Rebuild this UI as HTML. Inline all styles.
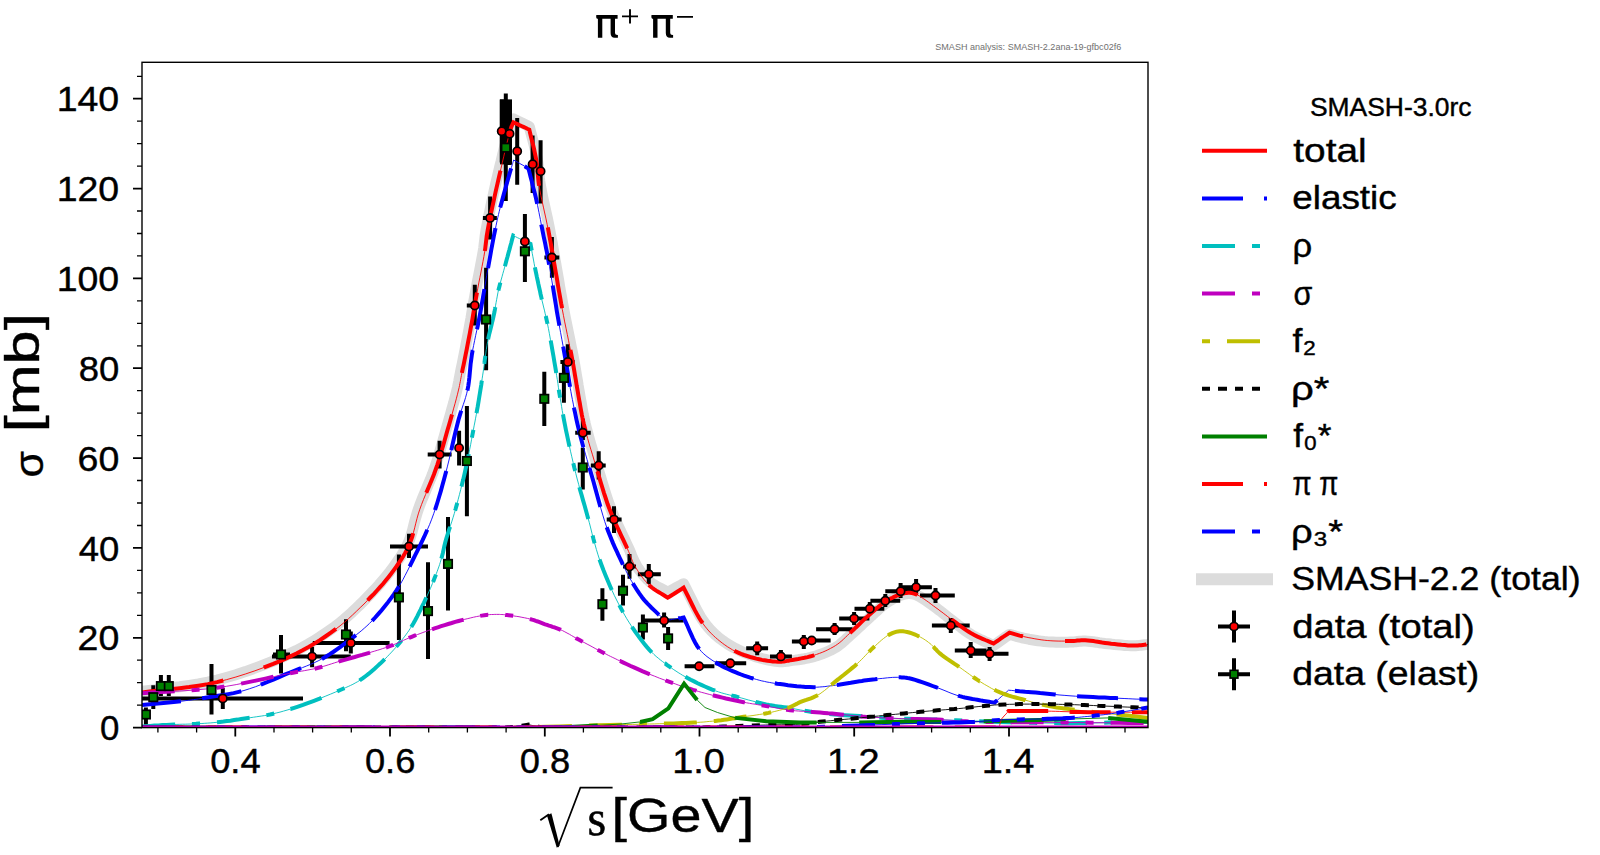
<!DOCTYPE html><html><head><meta charset="utf-8"><style>html,body{margin:0;padding:0;background:#fff;width:1600px;height:855px;overflow:hidden}svg{display:block}</style></head><body>
<svg width="1600" height="855" viewBox="0 0 1600 855" font-family='"Liberation Sans", sans-serif'>
<rect width="1600" height="855" fill="#fff"/>
<defs><clipPath id="ax"><rect x="142" y="62.3" width="1006" height="665.3"/></clipPath></defs>
<g clip-path="url(#ax)" fill="none" stroke-linejoin="miter" stroke-linecap="butt">
<path d="M142.0 691.4 L151.4 690.1 L160.8 688.9 L170.2 687.8 L179.7 686.7 L189.1 685.4 L198.4 684.0 L207.8 682.2 L217.0 680.1 L226.4 677.5 L235.9 674.7 L245.5 671.6 L254.9 668.2 L264.2 664.7 L273.2 661.1 L281.8 657.4 L290.0 653.6 L296.4 650.5 L302.5 647.3 L308.4 644.0 L314.1 640.6 L319.6 637.2 L324.9 633.7 L330.1 630.1 L335.2 626.4 L339.6 623.0 L343.9 619.5 L348.0 615.9 L352.0 612.3 L355.8 608.6 L359.6 605.0 L363.3 601.3 L366.9 597.7 L370.1 594.4 L373.2 591.1 L376.2 587.9 L379.2 584.6 L382.0 581.3 L384.8 578.0 L387.5 574.7 L390.2 571.3 L392.7 568.0 L395.1 564.7 L397.4 561.4 L399.7 558.0 L401.9 554.7 L404.0 551.2 L406.0 547.6 L407.8 543.9 L409.5 539.9 L410.9 535.7 L412.2 531.5 L413.3 527.1 L414.4 522.7 L415.6 518.2 L416.9 513.7 L418.3 509.3 L420.1 504.4 L422.0 499.5 L424.1 494.5 L426.2 489.5 L428.3 484.4 L430.4 479.4 L432.4 474.3 L434.2 469.3 L435.9 464.3 L437.5 459.4 L439.0 454.4 L440.4 449.4 L441.9 444.4 L443.3 439.4 L444.7 434.4 L446.1 429.5 L447.6 424.4 L449.1 419.1 L450.6 413.8 L452.0 408.5 L453.5 403.3 L454.8 398.3 L456.0 393.7 L457.0 389.5 L457.6 387.1 L458.0 385.0 L458.4 383.0 L458.8 381.1 L459.1 379.1 L459.5 377.2 L459.9 375.0 L460.4 372.6 L461.2 368.4 L462.2 363.8 L463.2 358.9 L464.2 353.7 L465.3 348.4 L466.3 343.1 L467.3 337.9 L468.3 332.8 L469.2 327.8 L470.1 322.8 L471.0 317.9 L471.8 312.9 L472.7 307.9 L473.5 302.9 L474.4 297.9 L475.3 292.9 L476.3 287.6 L477.3 282.2 L478.4 276.7 L479.5 271.2 L480.5 265.8 L481.5 260.6 L482.4 255.7 L483.2 251.1 L483.7 248.1 L484.0 245.4 L484.3 242.8 L484.6 240.4 L484.9 237.9 L485.2 235.2 L485.7 232.4 L486.2 229.2 L487.4 222.8 L488.8 215.6 L490.5 207.7 L492.3 199.4 L494.1 190.9 L496.0 182.6 L497.9 174.6 L499.6 167.2 L501.1 161.3 L502.5 155.1 L504.1 149.0 L505.6 143.1 L507.0 137.6 L508.4 132.6 L509.7 128.3 L510.8 124.9 L511.2 123.8 L511.5 123.0 L511.9 122.2 L512.2 121.5 L512.5 120.8 L512.8 120.2 L513.2 119.5 L513.5 118.8 L515.5 119.8 L517.5 120.8 L519.4 121.8 L521.4 122.7 L523.4 123.7 L525.4 124.7 L527.3 125.7 L529.3 126.7 L530.3 130.7 L531.4 134.8 L532.5 138.9 L533.6 143.0 L534.6 147.0 L535.6 151.1 L536.5 155.0 L537.2 158.9 L537.8 162.2 L538.2 165.4 L538.5 168.4 L538.8 171.5 L539.1 174.6 L539.4 177.8 L539.8 181.2 L540.3 184.7 L541.3 189.8 L542.3 195.3 L543.6 201.1 L544.9 207.0 L546.2 212.9 L547.5 218.8 L548.7 224.6 L549.8 230.0 L550.6 234.4 L551.4 238.7 L552.2 242.8 L552.9 246.9 L553.6 251.0 L554.3 255.1 L555.0 259.4 L555.8 263.8 L556.7 269.2 L557.7 274.7 L558.7 280.4 L559.6 286.1 L560.6 291.9 L561.7 297.8 L562.7 303.7 L563.8 309.5 L565.0 315.7 L566.2 321.9 L567.5 328.2 L568.8 334.5 L570.1 340.8 L571.3 347.1 L572.6 353.2 L573.7 359.2 L574.7 364.6 L575.6 369.9 L576.5 375.3 L577.4 380.5 L578.2 385.7 L579.1 390.7 L579.9 395.5 L580.7 400.0 L581.3 403.2 L581.8 406.3 L582.3 409.1 L582.8 411.9 L583.3 414.7 L583.9 417.6 L584.6 420.6 L585.3 423.8 L586.5 428.5 L587.8 433.4 L589.2 438.6 L590.7 443.9 L592.3 449.3 L594.0 454.8 L595.6 460.2 L597.2 465.5 L598.8 471.0 L600.5 476.5 L602.1 482.0 L603.8 487.5 L605.5 493.1 L607.3 498.6 L609.1 504.0 L611.1 509.3 L613.2 514.5 L615.4 519.7 L617.8 525.0 L620.2 530.1 L622.5 535.2 L624.8 540.0 L626.9 544.5 L628.9 548.6 L630.0 551.1 L630.9 553.5 L631.8 555.8 L632.7 557.9 L633.6 560.0 L634.5 562.0 L635.6 564.0 L636.7 566.1 L638.1 568.2 L639.6 570.3 L641.1 572.3 L642.7 574.4 L644.4 576.3 L646.1 578.2 L647.9 580.0 L649.8 581.7 L651.8 583.3 L654.0 584.7 L656.2 586.1 L658.5 587.3 L660.8 588.5 L663.1 589.7 L665.4 590.9 L667.7 592.2 L669.7 591.2 L671.7 590.1 L673.7 589.0 L675.7 587.9 L677.6 586.9 L679.6 585.8 L681.6 584.7 L683.6 583.7 L686.0 588.4 L688.4 593.3 L690.9 598.2 L693.3 603.1 L695.7 607.9 L698.1 612.5 L700.5 616.7 L702.9 620.4 L704.6 622.8 L706.2 624.9 L707.8 626.9 L709.4 628.8 L711.0 630.5 L712.7 632.2 L714.4 633.9 L716.3 635.6 L718.5 637.4 L720.7 639.2 L723.0 640.9 L725.4 642.5 L727.8 644.1 L730.3 645.7 L732.9 647.1 L735.5 648.5 L738.3 649.9 L741.2 651.3 L744.1 652.5 L747.2 653.7 L750.2 654.9 L753.2 655.9 L756.3 656.9 L759.2 657.7 L761.9 658.5 L764.6 659.2 L767.4 659.8 L770.1 660.4 L772.8 660.9 L775.3 661.3 L777.8 661.5 L780.0 661.7 L781.4 661.7 L782.6 661.7 L783.8 661.6 L784.9 661.5 L786.0 661.3 L787.2 661.2 L788.5 661.0 L789.9 660.8 L792.4 660.4 L795.2 660.1 L798.2 659.7 L801.3 659.2 L804.5 658.7 L807.6 658.1 L810.7 657.4 L813.7 656.6 L816.6 655.8 L819.4 654.8 L822.3 653.8 L825.1 652.7 L827.8 651.5 L830.5 650.3 L833.1 648.9 L835.6 647.5 L837.8 646.1 L839.9 644.5 L841.9 642.9 L843.8 641.2 L845.7 639.4 L847.6 637.7 L849.5 635.9 L851.5 634.1 L853.7 632.1 L855.9 630.1 L858.2 628.0 L860.5 625.9 L862.7 623.8 L865.0 621.7 L867.2 619.7 L869.4 617.7 L871.4 615.8 L873.4 614.0 L875.4 612.1 L877.4 610.3 L879.4 608.5 L881.3 606.8 L883.3 605.2 L885.3 603.7 L887.0 602.5 L888.8 601.3 L890.6 600.2 L892.3 599.2 L894.1 598.2 L895.8 597.3 L897.5 596.5 L899.2 595.9 L900.5 595.4 L901.8 594.9 L903.1 594.5 L904.3 594.2 L905.6 593.9 L906.8 593.7 L908.0 593.6 L909.2 593.5 L910.2 593.6 L911.2 593.6 L912.1 593.8 L913.0 593.9 L914.0 594.2 L915.0 594.5 L916.0 594.9 L917.1 595.3 L919.1 596.3 L921.4 597.6 L923.7 599.1 L926.2 600.7 L928.7 602.5 L931.2 604.3 L933.6 606.1 L935.9 607.7 L938.0 609.3 L940.0 610.8 L941.9 612.3 L943.8 613.9 L945.8 615.4 L947.7 617.0 L949.7 618.6 L951.8 620.2 L954.2 622.0 L956.6 623.9 L959.0 625.8 L961.5 627.8 L964.0 629.7 L966.5 631.5 L969.1 633.3 L971.7 634.9 L974.3 636.4 L977.0 637.8 L979.8 639.2 L982.5 640.4 L985.3 641.7 L988.1 642.9 L990.8 644.2 L993.6 645.5 L995.6 644.1 L997.6 642.7 L999.6 641.3 L1001.5 639.9 L1003.5 638.5 L1005.5 637.1 L1007.5 635.7 L1009.5 634.4 L1011.2 634.8 L1012.9 635.3 L1014.5 635.8 L1016.2 636.3 L1017.9 636.7 L1019.6 637.2 L1021.5 637.6 L1023.4 638.1 L1026.1 638.6 L1028.9 639.2 L1031.9 639.7 L1034.9 640.2 L1038.0 640.7 L1041.1 641.1 L1044.2 641.5 L1047.2 641.8 L1050.1 642.0 L1053.0 642.1 L1056.0 642.2 L1058.9 642.2 L1061.8 642.2 L1064.6 642.2 L1067.4 642.2 L1070.0 642.1 L1072.0 642.0 L1073.9 641.9 L1075.8 641.7 L1077.6 641.5 L1079.4 641.3 L1081.3 641.2 L1083.2 641.1 L1085.2 641.1 L1087.8 641.2 L1090.5 641.5 L1093.3 641.8 L1096.2 642.2 L1099.1 642.7 L1102.1 643.1 L1105.0 643.5 L1108.0 643.8 L1111.2 644.1 L1114.5 644.5 L1117.9 644.8 L1121.3 645.1 L1124.7 645.4 L1127.9 645.6 L1131.0 645.7 L1133.9 645.8 L1135.9 645.7 L1137.7 645.6 L1139.5 645.4 L1141.2 645.2 L1142.9 645.0 L1144.6 644.8 L1146.3 644.6 L1148.0 644.4" stroke="#dcdcdc" stroke-width="11" stroke-linejoin="round"/>
<path d="M142.0 698.4H303.0M222.8 688.0V709.0M272.0 656.6H350.8M312.1 646.7V667.2M312.8 642.9H389.6M350.8 631.5V653.5M390.0 546.4H428.0M409.0 533.7V558.0M427.7 454.6H451.6M439.6 440.7V468.5M459.1 430.8V465.5M466.8 305.5H478.8M474.8 284.7V325.4M482.9 217.9H496.9M490.1 196.4V239.6M501.7 99.4V162.5M509.6 100.0V165.0M517.2 118.0V184.7M524.9 214.0V282.0M532.6 135.6V192.9M540.6 140.3V203.4M544.4 257.4H559.3M551.9 237.0V277.7M560.4 361.9H574.6M567.8 344.2V366.0M575.2 432.7H590.7M582.9 418.8V440.0M590.8 465.5H605.7M598.7 451.2V479.5M606.7 519.6H621.6M614.0 506.3V533.1M623.0 566.4H636.0M629.5 553.9V578.8M637.9 574.2H660.8M648.8 564.0V584.0M642.9 620.5H683.6M664.1 612.6V627.5M684.6 666.2H714.4M699.1 662.0V670.0M715.4 663.3H746.2M730.3 659.0V667.0M746.2 648.3H768.1M757.2 641.4V655.3M770.0 656.4H791.9M780.9 650.0V663.0M791.9 641.5H816.0M803.8 635.0V649.0M802.8 640.5H830.6M816.1 629.2H852.5M834.6 623.0V635.0M839.2 618.6H869.4M854.1 612.0V625.0M854.5 608.7H884.3M869.8 602.0V615.0M870.4 600.8H900.2M885.3 594.0V607.0M885.3 591.2H917.1M900.6 583.0V598.0M899.2 587.2H931.9M916.1 579.0V595.0M920.0 595.4H954.8M935.5 588.0V603.0M931.9 625.6H969.7M950.8 618.0V633.0M954.8 650.5H986.6M970.7 642.0V658.0M972.7 653.8H1008.5M989.6 647.0V661.0M145.9 707.4V724.8M153.3 685.3V709.0M160.9 675.0V696.0M168.8 675.0V696.0M211.5 664.0V714.5M273.0 654.5H290.0M281.0 635.0V673.5M346.0 619.3V651.3M398.9 554.4V640.1M428.0 562.2V659.1M448.0 516.9V610.6M466.9 405.9V516.2M486.1 267.8V370.2M505.8 93.5V201.0M524.9 229.0V281.7M544.3 371.8V425.9M563.9 360.0V402.7M582.8 447.7V489.4M602.4 588.3V620.8M623.0 574.8V605.6M642.9 614.6V639.4M668.1 627.0V650.0" stroke="#000" stroke-width="4"/>
<rect x="500" y="99.4" width="12" height="65" fill="#000"/>
<path d="M142.0 692.4 L151.4 691.2 L160.8 690.2 L170.2 689.2 L179.7 688.2 L189.1 687.1 L198.4 685.7 L207.8 684.1 L217.0 682.1 L226.4 679.7 L235.9 677.0 L245.4 674.0 L254.9 670.8 L264.2 667.4 L273.2 663.9 L281.8 660.3 L290.0 656.6 L296.4 653.5 L302.6 650.3 L308.6 647.0 L314.3 643.6 L319.9 640.1 L325.3 636.5 L330.5 632.9 L335.6 629.2 L340.1 625.8 L344.4 622.3 L348.5 618.7 L352.5 615.0 L356.4 611.3 L360.2 607.6 L364.0 604.0 L367.6 600.3 L370.8 597.0 L374.0 593.8 L377.0 590.5 L380.0 587.2 L382.9 584.0 L385.7 580.6 L388.4 577.2 L391.1 573.8 L393.6 570.4 L396.1 567.0 L398.5 563.5 L400.8 560.1 L403.1 556.5 L405.2 552.9 L407.2 549.1 L409.0 545.3 L410.7 541.1 L412.2 536.8 L413.5 532.3 L414.7 527.8 L415.8 523.2 L417.0 518.5 L418.3 513.9 L419.8 509.3 L421.6 504.4 L423.5 499.5 L425.6 494.5 L427.7 489.5 L429.8 484.5 L431.9 479.5 L433.9 474.5 L435.7 469.5 L437.4 464.6 L439.0 459.6 L440.5 454.7 L441.9 449.7 L443.4 444.7 L444.8 439.8 L446.2 434.8 L447.6 429.8 L449.1 424.7 L450.6 419.5 L452.1 414.2 L453.5 408.9 L455.0 403.7 L456.3 398.8 L457.5 394.2 L458.5 390.0 L459.1 387.6 L459.5 385.5 L459.9 383.5 L460.3 381.6 L460.6 379.7 L461.0 377.7 L461.4 375.5 L461.9 373.1 L462.7 368.9 L463.7 364.4 L464.7 359.4 L465.7 354.3 L466.8 349.0 L467.8 343.7 L468.8 338.5 L469.8 333.4 L470.7 328.4 L471.6 323.5 L472.5 318.5 L473.3 313.6 L474.2 308.6 L475.0 303.6 L475.9 298.6 L476.8 293.6 L477.8 288.3 L478.8 282.9 L479.9 277.5 L481.0 272.0 L482.0 266.6 L483.0 261.4 L483.9 256.5 L484.7 251.9 L485.2 248.9 L485.5 246.2 L485.8 243.7 L486.1 241.2 L486.4 238.7 L486.7 236.1 L487.2 233.2 L487.7 230.0 L488.9 223.7 L490.3 216.5 L492.0 208.6 L493.8 200.3 L495.6 191.9 L497.5 183.6 L499.3 175.7 L501.0 168.4 L502.3 162.7 L503.7 156.8 L505.0 151.0 L506.4 145.3 L507.7 140.1 L508.9 135.3 L510.0 131.2 L511.0 128.0 L511.3 127.0 L511.7 126.2 L512.0 125.5 L512.3 124.8 L512.6 124.2 L512.9 123.6 L513.2 123.0 L513.5 122.3 L515.5 123.2 L517.4 124.1 L519.4 125.1 L521.4 126.0 L523.4 126.9 L525.4 127.8 L527.3 128.8 L529.3 129.7 L530.2 133.5 L531.1 137.3 L532.1 141.2 L533.1 145.0 L534.0 148.8 L534.8 152.6 L535.6 156.3 L536.3 160.0 L536.8 163.2 L537.1 166.2 L537.4 169.2 L537.6 172.2 L537.9 175.2 L538.2 178.3 L538.5 181.6 L539.0 185.0 L539.9 190.1 L540.9 195.5 L542.1 201.2 L543.4 207.1 L544.7 213.0 L546.0 218.9 L547.2 224.6 L548.3 230.0 L549.1 234.4 L549.9 238.7 L550.7 242.8 L551.4 246.9 L552.1 251.0 L552.8 255.1 L553.5 259.4 L554.3 263.8 L555.2 269.2 L556.2 274.7 L557.2 280.4 L558.1 286.1 L559.1 291.9 L560.2 297.8 L561.2 303.7 L562.3 309.5 L563.5 315.7 L564.7 321.9 L566.0 328.2 L567.3 334.5 L568.6 340.8 L569.8 347.1 L571.1 353.2 L572.2 359.2 L573.2 364.6 L574.1 369.9 L575.0 375.3 L575.9 380.5 L576.7 385.7 L577.6 390.7 L578.4 395.5 L579.2 400.0 L579.8 403.2 L580.3 406.3 L580.8 409.1 L581.3 411.9 L581.8 414.7 L582.4 417.6 L583.1 420.6 L583.8 423.8 L585.0 428.5 L586.3 433.4 L587.7 438.6 L589.2 443.9 L590.8 449.3 L592.5 454.8 L594.1 460.2 L595.7 465.5 L597.3 471.0 L599.0 476.5 L600.6 482.0 L602.3 487.5 L604.0 493.1 L605.8 498.5 L607.6 504.0 L609.6 509.3 L611.7 514.5 L613.9 519.8 L616.3 525.0 L618.7 530.2 L621.1 535.3 L623.4 540.2 L625.6 544.8 L627.5 549.0 L628.7 551.7 L629.7 554.2 L630.7 556.6 L631.6 558.9 L632.5 561.2 L633.5 563.4 L634.6 565.6 L635.9 567.8 L637.4 570.2 L638.9 572.5 L640.5 574.9 L642.2 577.2 L644.0 579.5 L645.9 581.7 L647.8 583.7 L649.8 585.7 L651.8 587.5 L654.0 589.1 L656.2 590.6 L658.5 592.0 L660.8 593.4 L663.1 594.8 L665.4 596.2 L667.7 597.7 L669.7 596.5 L671.7 595.2 L673.7 594.0 L675.7 592.7 L677.6 591.5 L679.6 590.2 L681.6 589.0 L683.6 587.7 L685.8 592.0 L688.1 596.5 L690.3 601.0 L692.5 605.5 L694.7 609.9 L697.0 614.1 L699.2 618.0 L701.5 621.5 L703.2 623.9 L704.8 626.1 L706.5 628.2 L708.1 630.1 L709.8 632.0 L711.6 633.8 L713.4 635.6 L715.4 637.4 L717.6 639.3 L719.9 641.2 L722.3 643.1 L724.8 644.9 L727.4 646.7 L730.0 648.3 L732.6 649.9 L735.3 651.3 L738.1 652.6 L741.0 653.9 L744.0 655.0 L747.1 656.0 L750.2 657.0 L753.2 657.8 L756.2 658.6 L759.2 659.3 L761.9 659.9 L764.6 660.3 L767.4 660.8 L770.1 661.1 L772.8 661.4 L775.4 661.6 L777.8 661.7 L780.0 661.7 L781.4 661.7 L782.6 661.6 L783.8 661.5 L784.9 661.3 L786.0 661.1 L787.2 660.9 L788.5 660.7 L789.9 660.4 L792.4 660.0 L795.2 659.5 L798.2 659.0 L801.3 658.4 L804.5 657.8 L807.6 657.1 L810.7 656.3 L813.7 655.4 L816.6 654.4 L819.4 653.4 L822.3 652.3 L825.1 651.1 L827.8 649.8 L830.5 648.4 L833.1 647.0 L835.6 645.5 L837.8 644.0 L839.9 642.4 L841.9 640.7 L843.8 638.9 L845.7 637.1 L847.6 635.3 L849.5 633.4 L851.5 631.6 L853.7 629.6 L855.9 627.4 L858.2 625.3 L860.4 623.1 L862.7 620.9 L864.9 618.8 L867.2 616.7 L869.4 614.7 L871.4 612.9 L873.4 611.2 L875.4 609.4 L877.4 607.7 L879.3 606.1 L881.3 604.5 L883.3 603.0 L885.3 601.7 L887.0 600.6 L888.8 599.6 L890.6 598.6 L892.4 597.7 L894.1 596.8 L895.8 596.1 L897.5 595.4 L899.2 594.8 L900.5 594.4 L901.8 594.0 L903.1 593.6 L904.3 593.3 L905.6 593.1 L906.8 592.9 L908.0 592.8 L909.2 592.8 L910.2 592.8 L911.2 592.9 L912.1 593.1 L913.1 593.3 L914.0 593.6 L915.0 593.9 L916.0 594.3 L917.1 594.8 L919.1 595.8 L921.4 597.2 L923.7 598.8 L926.2 600.5 L928.7 602.3 L931.2 604.2 L933.6 606.0 L935.9 607.7 L938.0 609.2 L939.9 610.7 L941.9 612.1 L943.8 613.6 L945.8 615.1 L947.7 616.6 L949.7 618.1 L951.8 619.6 L954.2 621.3 L956.6 623.1 L959.0 625.0 L961.5 626.8 L964.0 628.6 L966.5 630.4 L969.1 632.0 L971.7 633.6 L974.3 635.0 L977.0 636.4 L979.8 637.6 L982.5 638.8 L985.3 640.0 L988.1 641.1 L990.8 642.3 L993.6 643.5 L995.6 642.1 L997.6 640.8 L999.6 639.4 L1001.5 638.0 L1003.5 636.7 L1005.5 635.3 L1007.5 634.0 L1009.5 632.6 L1011.2 633.1 L1012.9 633.6 L1014.5 634.1 L1016.2 634.6 L1017.9 635.1 L1019.6 635.6 L1021.5 636.0 L1023.4 636.5 L1026.1 637.1 L1028.9 637.7 L1031.9 638.2 L1034.9 638.8 L1038.0 639.3 L1041.1 639.8 L1044.2 640.2 L1047.2 640.5 L1050.1 640.7 L1053.0 640.9 L1056.0 641.0 L1058.9 641.1 L1061.8 641.1 L1064.6 641.1 L1067.4 641.1 L1070.0 641.1 L1072.0 641.0 L1073.9 640.9 L1075.8 640.8 L1077.6 640.6 L1079.4 640.4 L1081.3 640.3 L1083.2 640.3 L1085.2 640.3 L1087.8 640.5 L1090.5 640.8 L1093.4 641.1 L1096.2 641.6 L1099.1 642.0 L1102.1 642.5 L1105.0 642.9 L1108.0 643.3 L1111.2 643.7 L1114.5 644.0 L1117.9 644.4 L1121.3 644.8 L1124.7 645.1 L1127.9 645.4 L1131.0 645.5 L1133.9 645.6 L1135.9 645.6 L1137.7 645.5 L1139.5 645.3 L1141.2 645.2 L1142.9 645.0 L1144.6 644.8 L1146.3 644.6 L1148.0 644.4" stroke="#ff0000" stroke-width="0.9"/>
<path d="M142.3 692.4 L151.4 691.2 L160.8 690.2 L170.2 689.2 L179.7 688.2 L189.1 687.1 L198.4 685.7 L207.8 684.1 L217.0 682.1 L223.3 680.5M263.8 667.6 L264.2 667.4 L273.2 663.9 L281.8 660.3 L290.0 656.6 L296.4 653.5 L302.6 650.3 L308.6 647.0 L314.3 643.6 L319.9 640.1 L325.3 636.5 L330.5 632.9 L335.6 629.2 L336.0 628.9M367.6 600.3 L370.8 597.0 L374.0 593.8 L377.0 590.5 L380.0 587.2 L382.9 584.0 L385.7 580.6 L388.4 577.2 L391.1 573.8 L393.6 570.4 L396.1 567.0 L398.5 563.5 L400.8 560.1 L403.1 556.5 L405.2 552.9 L407.2 549.1 L409.0 545.3 L410.7 541.1 L412.2 536.8 L413.2 533.2M426.3 492.8 L427.7 489.5 L429.8 484.5 L431.9 479.5 L433.9 474.5 L435.7 469.5 L437.4 464.6 L439.0 459.6 L440.5 454.7 L441.9 449.7 L443.4 444.7 L444.8 439.8 L446.2 434.8 L447.6 429.8 L449.1 424.7 L450.6 419.5 L452.0 414.5M461.9 372.9 L462.7 368.9 L463.7 364.4 L464.7 359.4 L465.7 354.3 L466.8 349.0 L467.8 343.7 L468.8 338.5 L469.8 333.4 L470.7 328.4 L471.6 323.5 L472.5 318.5 L473.3 313.6 L474.2 308.6 L475.0 303.6 L475.9 298.6 L476.8 293.6 L477.0 292.6M484.8 251.0 L485.2 248.9 L485.5 246.2 L485.8 243.7 L486.1 241.2 L486.4 238.7 L486.7 236.1 L487.2 233.2 L487.7 230.0 L488.9 223.7 L490.3 216.5 L492.0 208.6 L493.8 200.3 L495.6 191.9 L497.5 183.6 L499.3 175.7 L500.5 170.6M510.6 129.3 L511.0 128.0 L511.3 127.0 L511.7 126.2 L512.0 125.5 L512.3 124.8 L512.6 124.2 L512.9 123.6 L513.2 123.0 L513.5 122.3 L515.5 123.2 L517.4 124.1 L519.4 125.1 L521.4 126.0 L523.4 126.9 L525.4 127.8 L527.3 128.8 L529.3 129.7 L530.2 133.5 L531.1 137.3 L532.1 141.2 L533.1 145.0 L534.0 148.8 L534.8 152.6 L535.6 156.3 L536.3 160.0 L536.8 163.2 L537.1 166.2 L537.4 169.2 L537.6 172.2 L537.9 175.2 L538.2 178.3 L538.5 181.6 L539.0 185.0 L539.1 185.8M547.8 227.4 L548.3 230.0 L549.1 234.4 L549.9 238.7 L550.7 242.8 L551.4 246.9 L552.1 251.0 L552.8 255.1 L553.5 259.4 L554.3 263.8 L555.2 269.2 L556.2 274.7 L557.2 280.4 L558.1 286.1 L559.1 291.9 L560.2 297.8 L561.2 303.7 L562.1 308.2M570.4 349.9 L571.1 353.2 L572.2 359.2 L573.2 364.6 L574.1 369.9 L575.0 375.3 L575.9 380.5 L576.7 385.7 L577.6 390.7 L578.4 395.5 L579.2 400.0 L579.8 403.2 L580.3 406.3 L580.8 409.1 L581.3 411.9 L581.8 414.7 L582.4 417.6 L583.1 420.6 L583.8 423.8 L585.0 428.5 L585.5 430.5M597.4 471.3 L599.0 476.5 L600.6 482.0 L602.3 487.5 L604.0 493.1 L605.8 498.5 L607.6 504.0 L609.6 509.3 L611.7 514.5 L613.9 519.8 L616.3 525.0 L618.7 530.2 L621.1 535.3 L623.4 540.2 L625.6 544.8 L627.2 548.4M649.0 584.9 L649.8 585.7 L651.8 587.5 L654.0 589.1 L656.2 590.6 L658.5 592.0 L660.8 593.4 L663.1 594.8 L665.4 596.2 L667.7 597.7 L669.7 596.5 L671.7 595.2 L673.7 594.0 L675.7 592.7 L677.6 591.5 L679.6 590.2 L681.6 589.0 L683.6 587.7 L685.8 592.0 L688.1 596.5 L690.3 601.0 L692.5 605.5 L694.7 609.9 L697.0 614.1 L699.2 618.0 L701.5 621.5 L702.7 623.2M734.4 650.8 L735.3 651.3 L738.1 652.6 L741.0 653.9 L744.0 655.0 L747.1 656.0 L750.2 657.0 L753.2 657.8 L756.2 658.6 L759.2 659.3 L761.9 659.9 L764.6 660.3 L767.4 660.8 L770.1 661.1 L772.8 661.4 L775.4 661.6 L777.8 661.7 L780.0 661.7 L781.4 661.7 L782.6 661.6 L783.8 661.5 L784.9 661.3 L786.0 661.1 L787.2 660.9 L788.5 660.7 L789.9 660.4 L792.4 660.0 L795.2 659.5 L798.2 659.0 L801.3 658.4 L804.5 657.8 L807.6 657.1 L810.7 656.3 L813.7 655.4 L814.2 655.2M849.9 633.1 L851.5 631.6 L853.7 629.6 L855.9 627.4 L858.2 625.3 L860.4 623.1 L862.7 620.9 L864.9 618.8 L867.2 616.7 L869.4 614.7 L871.4 612.9 L873.4 611.2 L875.4 609.4 L877.4 607.7 L879.3 606.1 L881.3 604.5 L883.3 603.0 L885.3 601.7 L887.0 600.6 L888.8 599.6 L890.6 598.6 L892.4 597.7 L894.1 596.8 L895.8 596.1 L897.5 595.4 L899.2 594.8 L900.5 594.4 L901.8 594.0 L903.1 593.6 L904.3 593.3 L905.6 593.1 L906.8 592.9 L908.0 592.8 L909.2 592.8 L910.2 592.8 L911.2 592.9 L912.1 593.1 L913.1 593.3 L914.0 593.6 L915.0 593.9 L916.0 594.3 L917.1 594.8 L917.4 595.0M951.8 619.6 L954.2 621.3 L956.6 623.1 L959.0 625.0 L961.5 626.8 L964.0 628.6 L966.5 630.4 L969.1 632.0 L971.7 633.6 L974.3 635.0 L977.0 636.4 L979.8 637.6 L982.5 638.8 L985.3 640.0 L988.1 641.1 L990.8 642.3 L993.6 643.5 L995.6 642.1 L997.6 640.8 L999.6 639.4 L1001.5 638.0 L1003.5 636.7 L1005.5 635.3 L1007.5 634.0 L1009.5 632.6 L1011.2 633.1 L1012.9 633.6 L1014.5 634.1 L1016.2 634.6 L1017.9 635.1 L1019.6 635.6 L1021.5 636.0 L1023.0 636.4M1065.0 641.1 L1067.4 641.1 L1070.0 641.1 L1072.0 641.0 L1073.9 640.9 L1075.8 640.8 L1077.6 640.6 L1079.4 640.4 L1081.3 640.3 L1083.2 640.3 L1085.2 640.3 L1087.8 640.5 L1090.5 640.8 L1093.4 641.1 L1096.2 641.6 L1099.1 642.0 L1102.1 642.5 L1105.0 642.9 L1108.0 643.3 L1111.2 643.7 L1114.5 644.0 L1117.9 644.4 L1121.3 644.8 L1124.7 645.1 L1127.9 645.4 L1131.0 645.5 L1133.9 645.6 L1135.9 645.6 L1137.7 645.5 L1139.5 645.3 L1141.2 645.2 L1142.9 645.0 L1144.6 644.8 L1146.3 644.6 L1146.6 644.5" stroke="#ff0000" stroke-width="4"/>
<path d="M142.0 705.0 L147.2 704.5 L152.6 704.0 L158.0 703.5 L163.4 703.0 L168.6 702.5 L173.7 702.0 L178.5 701.5 L183.0 701.0 L185.9 700.6 L188.6 700.3 L191.1 700.0 L193.5 699.6 L196.0 699.3 L198.5 698.9 L201.1 698.5 L204.0 698.0 L208.4 697.3 L213.1 696.6 L218.0 695.8 L223.1 695.0 L228.3 694.1 L233.6 693.1 L238.8 691.9 L244.0 690.5 L249.7 688.7 L255.6 686.7 L261.5 684.4 L267.4 682.0 L273.3 679.6 L279.1 677.1 L284.6 674.7 L290.0 672.5 L294.3 670.8 L298.5 669.1 L302.5 667.6 L306.5 666.0 L310.4 664.4 L314.3 662.7 L318.1 660.9 L321.9 658.9 L325.7 656.7 L329.5 654.4 L333.2 652.0 L336.9 649.4 L340.5 646.8 L344.0 644.2 L347.5 641.6 L350.8 639.1 L353.7 636.9 L356.4 634.7 L359.1 632.6 L361.8 630.4 L364.3 628.2 L366.9 625.9 L369.5 623.4 L372.1 620.8 L375.2 617.5 L378.4 613.9 L381.6 610.2 L384.8 606.3 L387.9 602.4 L390.9 598.4 L393.8 594.4 L396.5 590.4 L398.8 586.7 L401.0 583.0 L403.1 579.3 L405.0 575.6 L407.0 571.8 L408.9 568.0 L410.8 564.1 L412.8 560.0 L415.2 555.2 L417.6 550.3 L420.1 545.3 L422.6 540.2 L425.0 535.0 L427.3 529.8 L429.6 524.5 L431.7 519.2 L433.7 513.7 L435.6 508.1 L437.4 502.5 L439.1 496.8 L440.8 491.1 L442.4 485.3 L444.0 479.4 L445.6 473.5 L447.3 466.9 L449.0 460.0 L450.6 453.0 L452.2 445.9 L453.8 439.0 L455.4 432.2 L457.0 425.8 L458.5 419.8 L459.7 415.7 L460.9 411.8 L462.1 408.1 L463.3 404.5 L464.5 401.0 L465.6 397.4 L466.6 393.8 L467.5 390.0 L468.3 385.8 L468.9 381.6 L469.4 377.3 L469.8 372.9 L470.2 368.5 L470.6 364.1 L471.2 359.7 L471.8 355.2 L472.6 350.4 L473.6 345.5 L474.6 340.6 L475.6 335.7 L476.7 330.7 L477.8 325.7 L478.8 320.6 L479.8 315.5 L480.8 309.9 L481.8 304.2 L482.8 298.4 L483.8 292.6 L484.8 286.8 L485.8 281.0 L486.7 275.3 L487.7 269.8 L488.6 264.8 L489.5 259.9 L490.4 255.0 L491.2 250.1 L492.1 245.4 L493.0 240.7 L493.8 236.3 L494.7 232.0 L495.4 228.8 L496.0 225.8 L496.6 223.0 L497.2 220.2 L497.8 217.4 L498.5 214.5 L499.2 211.6 L500.0 208.4 L501.2 203.9 L502.5 199.0 L503.9 193.8 L505.4 188.5 L506.8 183.4 L508.2 178.5 L509.4 174.2 L510.5 170.5 L511.0 168.9 L511.4 167.4 L511.8 166.1 L512.2 164.8 L512.6 163.6 L512.9 162.5 L513.3 161.3 L513.7 160.0 L515.5 161.1 L517.4 162.1 L519.2 163.2 L521.0 164.2 L522.9 165.2 L524.7 166.3 L526.6 167.4 L528.4 168.4 L529.5 172.6 L530.6 176.9 L531.7 181.1 L532.7 185.4 L533.8 189.6 L534.9 193.8 L535.9 197.9 L536.8 202.0 L537.6 205.6 L538.3 209.1 L539.0 212.6 L539.7 216.1 L540.4 219.5 L541.0 223.0 L541.7 226.5 L542.4 230.0 L543.1 233.6 L543.8 237.1 L544.6 240.7 L545.3 244.2 L546.0 247.8 L546.8 251.6 L547.5 255.6 L548.3 259.8 L549.5 266.3 L550.7 273.4 L551.9 280.9 L553.2 288.7 L554.5 296.6 L555.8 304.5 L557.0 312.2 L558.3 319.5 L559.4 326.0 L560.6 332.6 L561.8 339.2 L563.0 345.6 L564.1 351.9 L565.2 358.0 L566.3 363.8 L567.2 369.2 L567.8 372.8 L568.3 376.1 L568.8 379.3 L569.3 382.3 L569.8 385.3 L570.3 388.4 L570.9 391.6 L571.5 395.0 L572.4 399.5 L573.3 404.1 L574.2 408.9 L575.3 413.8 L576.3 418.8 L577.4 423.8 L578.6 428.8 L579.8 433.7 L581.1 438.8 L582.5 444.0 L584.0 449.1 L585.5 454.2 L587.0 459.4 L588.5 464.7 L590.1 470.1 L591.7 475.5 L593.5 481.8 L595.3 488.4 L597.1 495.1 L599.0 501.9 L600.9 508.6 L602.8 515.1 L604.7 521.4 L606.7 527.2 L608.3 531.5 L609.9 535.6 L611.5 539.6 L613.1 543.4 L614.8 547.2 L616.5 550.8 L618.1 554.4 L619.8 558.0 L621.3 561.2 L622.8 564.3 L624.3 567.3 L625.7 570.3 L627.2 573.3 L628.8 576.1 L630.3 579.0 L631.9 581.7 L633.3 584.1 L634.8 586.5 L636.2 588.8 L637.6 591.0 L639.1 593.2 L640.7 595.4 L642.2 597.5 L643.9 599.6 L645.7 601.7 L647.5 603.7 L649.5 605.7 L651.5 607.7 L653.5 609.6 L655.4 611.4 L657.2 613.1 L658.8 614.6 L659.8 615.5 L660.7 616.3 L661.6 617.0 L662.4 617.7 L663.2 618.4 L664.0 619.1 L664.9 619.8 L665.7 620.5 L667.9 620.1 L670.2 619.8 L672.4 619.4 L674.7 619.0 L676.9 618.6 L679.1 618.2 L681.4 617.9 L683.6 617.5 L685.5 621.6 L687.4 625.8 L689.3 630.2 L691.2 634.4 L693.1 638.6 L695.1 642.5 L697.2 646.1 L699.5 649.3 L701.3 651.4 L703.2 653.3 L705.1 655.0 L707.0 656.6 L709.1 658.1 L711.1 659.5 L713.2 660.9 L715.4 662.3 L717.7 663.7 L720.1 665.1 L722.5 666.4 L725.0 667.6 L727.5 668.8 L730.1 670.0 L732.7 671.1 L735.3 672.2 L738.2 673.4 L741.1 674.5 L744.1 675.6 L747.2 676.6 L750.2 677.6 L753.2 678.5 L756.3 679.4 L759.2 680.2 L761.8 680.9 L764.4 681.4 L766.9 682.0 L769.3 682.4 L771.9 682.9 L774.5 683.3 L777.2 683.7 L780.0 684.1 L783.9 684.6 L788.0 685.2 L792.4 685.7 L796.8 686.2 L801.2 686.6 L805.6 686.9 L809.8 687.1 L813.7 687.2 L816.7 687.2 L819.5 687.0 L822.2 686.8 L824.9 686.6 L827.5 686.2 L830.2 685.9 L832.9 685.6 L835.6 685.2 L838.6 684.8 L841.6 684.3 L844.6 683.8 L847.7 683.3 L850.7 682.8 L853.7 682.2 L856.7 681.7 L859.5 681.3 L861.9 681.0 L864.1 680.6 L866.4 680.3 L868.5 680.0 L870.7 679.7 L872.9 679.4 L875.1 679.2 L877.4 678.9 L879.9 678.6 L882.4 678.4 L885.0 678.1 L887.5 677.8 L890.1 677.6 L892.6 677.4 L895.0 677.3 L897.2 677.3 L898.8 677.3 L900.3 677.3 L901.7 677.4 L903.1 677.4 L904.5 677.6 L906.0 677.7 L907.5 678.0 L909.2 678.3 L912.1 679.0 L915.2 679.9 L918.5 681.0 L922.0 682.2 L925.6 683.4 L929.1 684.7 L932.6 686.0 L935.9 687.2 L939.0 688.3 L942.0 689.5 L945.0 690.7 L948.1 692.0 L951.0 693.2 L954.0 694.3 L956.9 695.3 L959.8 696.2 L962.4 696.9 L964.9 697.5 L967.4 698.0 L970.0 698.5 L972.4 699.0 L974.9 699.4 L977.3 699.8 L979.6 700.2 L981.6 700.6 L983.5 700.9 L985.4 701.2 L987.2 701.5 L989.1 701.8 L990.9 702.1 L992.7 702.4 L994.6 702.7 L996.3 701.1 L998.1 699.6 L999.8 698.0 L1001.5 696.5 L1003.3 694.9 L1005.0 693.3 L1006.8 691.8 L1008.5 690.2 L1011.3 690.4 L1014.1 690.7 L1016.8 690.9 L1019.5 691.2 L1022.3 691.4 L1025.2 691.7 L1028.2 691.9 L1031.3 692.2 L1035.6 692.6 L1040.2 693.1 L1044.9 693.5 L1049.8 694.0 L1054.8 694.5 L1059.9 695.0 L1064.9 695.4 L1070.0 695.8 L1075.6 696.2 L1081.3 696.5 L1087.2 696.8 L1093.0 697.1 L1098.9 697.4 L1104.7 697.6 L1110.2 697.9 L1115.6 698.1 L1119.9 698.3 L1124.1 698.5 L1128.2 698.7 L1132.1 698.9 L1136.1 699.1 L1140.0 699.2 L1144.0 699.4 L1148.0 699.6" stroke="#0000ff" stroke-width="0.9"/>
<path d="M142.0 705.0 L147.2 704.5 L152.6 704.0 L158.0 703.5 L163.4 703.0 L168.6 702.5 L173.7 702.0 L178.5 701.5 L180.9 701.2M202.1 698.3 L204.0 698.0 L208.4 697.3 L213.1 696.6 L218.0 695.8 L223.1 695.0 L228.3 694.1 L233.6 693.1 L238.8 691.9 L241.2 691.3M260.8 684.7 L261.5 684.4 L267.4 682.0 L273.3 679.6 L279.1 677.1 L284.6 674.7 L290.0 672.5 L294.3 670.8 L298.5 669.1 L301.1 668.1M321.9 658.9 L325.7 656.7 L329.5 654.4 L333.2 652.0 L336.9 649.4 L340.5 646.8 L344.0 644.2 L347.5 641.6 L350.8 639.1 L353.7 636.9 L355.9 635.2M372.1 620.8 L372.1 620.8 L375.2 617.5 L378.4 613.9 L381.6 610.2 L384.8 606.3 L387.9 602.4 L390.9 598.4 L393.8 594.4 L396.5 590.4 L398.8 586.7 L398.9 586.6M409.6 566.5 L410.8 564.1 L412.8 560.0 L415.2 555.2 L417.6 550.3 L420.1 545.3 L422.6 540.2 L425.0 535.0 L427.3 529.8M435.0 510.0 L435.6 508.1 L437.4 502.5 L439.1 496.8 L440.8 491.1 L442.4 485.3 L444.0 479.4 L445.6 473.5 L446.3 470.9M451.3 450.2 L452.2 445.9 L453.8 439.0 L455.4 432.2 L457.0 425.8 L458.5 419.8 L459.7 415.7 L460.9 411.8 L461.2 410.7M467.4 390.4 L467.5 390.0 L468.3 385.8 L468.9 381.6 L469.4 377.3 L469.8 372.9 L470.2 368.5 L470.6 364.1 L471.2 359.7 L471.8 355.2 L472.6 350.4 L472.7 350.1M477.0 329.2 L477.8 325.7 L478.8 320.6 L479.8 315.5 L480.8 309.9 L481.8 304.2 L482.8 298.4 L483.8 292.6 L484.4 289.2M488.0 268.2 L488.6 264.8 L489.5 259.9 L490.4 255.0 L491.2 250.1 L492.1 245.4 L493.0 240.7 L493.8 236.3 L494.7 232.0 L495.4 228.8 L495.5 228.2M500.2 207.5 L501.2 203.9 L502.5 199.0 L503.9 193.8 L505.4 188.5 L506.8 183.4 L508.2 178.5 L509.4 174.2 L510.5 170.5 L511.0 168.9 L511.2 168.3M524.7 166.3 L524.7 166.3 L526.6 167.4 L528.4 168.4 L529.5 172.6 L530.6 176.9 L531.7 181.1 L532.7 185.4 L533.8 189.6 L534.9 193.8 L535.9 197.9 L536.8 202.0 L537.2 203.7M541.3 224.6 L541.7 226.5 L542.4 230.0 L543.1 233.6 L543.8 237.1 L544.6 240.7 L545.3 244.2 L546.0 247.8 L546.8 251.6 L547.5 255.6 L548.3 259.8 L549.1 264.6M552.7 285.5 L553.2 288.7 L554.5 296.6 L555.8 304.5 L557.0 312.2 L558.3 319.5 L559.4 325.7M563.2 346.6 L564.1 351.9 L565.2 358.0 L566.3 363.8 L567.2 369.2 L567.8 372.8 L568.3 376.1 L568.8 379.3 L569.3 382.3 L569.8 385.3 L570.0 386.8M574.0 407.7 L574.2 408.9 L575.3 413.8 L576.3 418.8 L577.4 423.8 L578.6 428.8 L579.8 433.7 L581.1 438.8 L582.5 444.0 L583.4 447.3M589.4 467.7 L590.1 470.1 L591.7 475.5 L593.5 481.8 L595.3 488.4 L597.1 495.1 L599.0 501.9 L600.4 506.9M606.7 527.2 L606.7 527.2 L608.3 531.5 L609.9 535.6 L611.5 539.6 L613.1 543.4 L614.8 547.2 L616.5 550.8 L618.1 554.4 L619.8 558.0 L621.3 561.2 L622.8 564.3 L622.9 564.5M632.8 583.3 L633.3 584.1 L634.8 586.5 L636.2 588.8 L637.6 591.0 L639.1 593.2 L640.7 595.4 L642.2 597.5 L643.9 599.6 L645.7 601.7 L647.5 603.7 L649.5 605.7 L651.5 607.7 L653.5 609.6 L655.4 611.4 L657.2 613.1 L658.8 614.6 L659.1 614.8M678.3 618.4 L679.1 618.2 L681.4 617.9 L683.6 617.5 L685.5 621.6 L687.4 625.8 L689.3 630.2 L691.2 634.4 L693.1 638.6 L695.1 642.5 L697.2 646.1 L699.2 648.9M715.4 662.3 L717.7 663.7 L720.1 665.1 L722.5 666.4 L725.0 667.6 L727.5 668.8 L730.1 670.0 L732.7 671.1 L735.3 672.2 L738.2 673.4 L741.1 674.5 L744.1 675.6 L747.2 676.6 L750.2 677.6 L753.2 678.5 L753.6 678.6M774.8 683.3 L777.2 683.7 L780.0 684.1 L783.9 684.6 L788.0 685.2 L792.4 685.7 L796.8 686.2 L801.2 686.6 L805.6 686.9 L809.8 687.1 L813.7 687.2 L815.6 687.2M836.9 685.0 L838.6 684.8 L841.6 684.3 L844.6 683.8 L847.7 683.3 L850.7 682.8 L853.7 682.2 L856.7 681.7 L859.5 681.3 L861.9 681.0 L864.1 680.6 L866.4 680.3 L868.5 680.0 L870.7 679.7 L872.9 679.4 L875.1 679.2 L877.4 678.9M898.7 677.3 L898.8 677.3 L900.3 677.3 L901.7 677.4 L903.1 677.4 L904.5 677.6 L906.0 677.7 L907.5 678.0 L909.2 678.3 L912.1 679.0 L915.2 679.9 L918.5 681.0 L922.0 682.2 L925.6 683.4 L929.1 684.7 L932.6 686.0 L935.9 687.2 L938.0 688.0M958.0 695.6 L959.8 696.2 L962.4 696.9 L964.9 697.5 L967.4 698.0 L970.0 698.5 L972.4 699.0 L974.9 699.4 L977.3 699.8 L979.6 700.2 L981.6 700.6 L983.5 700.9 L985.4 701.2 L987.2 701.5 L989.1 701.8 L990.9 702.1 L992.7 702.4 L994.6 702.7 L996.3 701.1 L997.4 700.2M1014.9 690.8 L1016.8 690.9 L1019.5 691.2 L1022.3 691.4 L1025.2 691.7 L1028.2 691.9 L1031.3 692.2 L1035.6 692.6 L1040.2 693.1 L1044.9 693.5 L1049.8 694.0 L1054.8 694.5 L1055.7 694.6M1077.1 696.3 L1081.3 696.5 L1087.2 696.8 L1093.0 697.1 L1098.9 697.4 L1104.7 697.6 L1110.2 697.9 L1115.6 698.1 L1118.0 698.2M1139.4 699.2 L1140.0 699.2 L1144.0 699.4 L1148.0 699.6 L1148.0 699.6" stroke="#0000ff" stroke-width="4"/>
<path d="M142.0 726.4 L146.0 726.2 L150.1 725.9 L154.3 725.6 L158.4 725.4 L162.4 725.1 L166.4 724.9 L170.3 724.7 L174.0 724.5 L176.9 724.4 L179.8 724.3 L182.5 724.2 L185.2 724.2 L187.9 724.1 L190.5 724.0 L193.2 723.9 L196.0 723.8 L198.9 723.6 L201.9 723.5 L204.8 723.3 L207.8 723.1 L210.8 722.9 L213.9 722.6 L216.9 722.3 L220.0 722.0 L223.4 721.6 L226.9 721.1 L230.5 720.7 L234.1 720.1 L237.7 719.6 L241.2 719.0 L244.6 718.5 L248.0 718.0 L250.9 717.6 L253.6 717.2 L256.3 716.8 L259.0 716.4 L261.7 716.0 L264.4 715.6 L267.2 715.1 L270.0 714.5 L273.3 713.7 L276.7 712.9 L280.0 712.1 L283.5 711.1 L287.0 710.1 L290.6 709.0 L294.2 707.8 L298.0 706.6 L303.0 704.9 L308.4 702.9 L314.0 700.8 L319.6 698.6 L325.2 696.3 L330.6 694.1 L335.6 692.0 L340.2 690.0 L343.1 688.7 L345.7 687.6 L348.2 686.5 L350.6 685.4 L352.9 684.3 L355.2 683.0 L357.6 681.7 L360.0 680.2 L362.9 678.2 L365.8 676.0 L368.8 673.7 L371.7 671.2 L374.6 668.7 L377.4 666.1 L380.2 663.6 L382.8 661.1 L385.1 658.9 L387.3 656.6 L389.5 654.3 L391.6 652.1 L393.7 649.8 L395.7 647.5 L397.6 645.2 L399.5 642.9 L401.2 640.8 L402.8 638.8 L404.3 636.9 L405.8 634.9 L407.3 632.8 L408.8 630.7 L410.2 628.5 L411.7 626.2 L413.5 623.2 L415.3 620.0 L417.1 616.6 L418.8 613.1 L420.6 609.6 L422.2 606.2 L423.9 602.8 L425.4 599.5 L426.7 596.7 L427.9 594.0 L429.1 591.3 L430.3 588.7 L431.4 586.1 L432.4 583.5 L433.5 580.9 L434.5 578.3 L435.4 576.0 L436.3 573.7 L437.2 571.4 L438.0 569.1 L438.8 566.9 L439.6 564.6 L440.3 562.3 L441.0 560.0 L441.6 557.7 L442.2 555.4 L442.8 553.2 L443.3 550.9 L443.8 548.6 L444.3 546.2 L444.9 543.7 L445.6 541.1 L446.6 537.5 L447.8 533.8 L449.0 529.9 L450.3 525.9 L451.7 521.9 L453.0 517.7 L454.3 513.5 L455.5 509.3 L456.8 504.6 L458.1 499.7 L459.4 494.7 L460.7 489.7 L461.9 484.6 L463.2 479.6 L464.4 474.5 L465.5 469.5 L466.6 464.5 L467.7 459.5 L468.7 454.4 L469.7 449.3 L470.7 444.3 L471.6 439.3 L472.5 434.5 L473.4 429.8 L474.1 425.9 L474.9 422.0 L475.6 418.2 L476.3 414.5 L476.9 410.8 L477.6 407.2 L478.2 403.6 L478.8 400.0 L479.3 396.8 L479.8 393.7 L480.3 390.7 L480.8 387.7 L481.3 384.6 L481.7 381.5 L482.2 378.4 L482.7 375.1 L483.3 371.1 L483.9 366.9 L484.5 362.6 L485.0 358.2 L485.7 353.9 L486.3 349.5 L487.0 345.3 L487.7 341.3 L488.4 337.9 L489.1 334.6 L489.9 331.4 L490.7 328.2 L491.5 325.0 L492.2 321.9 L493.0 318.7 L493.7 315.5 L494.4 312.3 L495.0 309.0 L495.5 305.8 L496.1 302.5 L496.7 299.3 L497.3 296.1 L497.9 292.8 L498.6 289.6 L499.4 286.4 L500.2 283.2 L501.1 280.0 L502.0 276.8 L502.9 273.5 L503.8 270.3 L504.7 267.1 L505.6 263.8 L506.5 260.3 L507.5 256.8 L508.4 253.3 L509.4 249.8 L510.3 246.2 L511.3 242.7 L512.2 239.1 L513.2 235.6 L515.4 236.6 L517.5 237.7 L519.7 238.7 L521.8 239.7 L524.0 240.8 L526.2 241.8 L528.3 242.9 L530.5 243.9 L531.1 247.1 L531.7 250.4 L532.3 253.6 L532.9 256.8 L533.5 260.0 L534.1 263.3 L534.7 266.5 L535.4 269.8 L536.1 273.2 L536.8 276.7 L537.6 280.2 L538.3 283.7 L539.1 287.2 L539.9 290.7 L540.6 294.2 L541.4 297.6 L542.1 300.8 L542.9 304.0 L543.6 307.0 L544.4 310.1 L545.1 313.3 L545.9 316.5 L546.6 319.8 L547.4 323.4 L548.4 328.4 L549.4 333.7 L550.4 339.3 L551.5 345.0 L552.5 350.8 L553.5 356.5 L554.4 362.0 L555.3 367.2 L556.0 371.4 L556.6 375.5 L557.3 379.5 L557.9 383.4 L558.4 387.3 L559.0 391.2 L559.7 395.1 L560.3 399.0 L561.0 402.8 L561.6 406.6 L562.2 410.4 L562.9 414.1 L563.6 417.9 L564.3 421.7 L565.1 425.7 L565.9 429.8 L567.0 434.9 L568.1 440.2 L569.3 445.7 L570.5 451.2 L571.8 456.8 L573.1 462.4 L574.4 468.0 L575.8 473.5 L577.2 479.0 L578.7 484.5 L580.1 489.9 L581.7 495.4 L583.2 500.9 L584.8 506.3 L586.3 511.8 L587.8 517.2 L589.3 522.6 L590.7 528.0 L592.0 533.4 L593.4 538.8 L594.9 544.1 L596.4 549.5 L598.0 554.8 L599.7 560.0 L601.6 565.2 L603.5 570.3 L605.6 575.5 L607.7 580.6 L609.9 585.7 L612.1 590.6 L614.3 595.4 L616.6 600.0 L618.6 603.9 L620.6 607.7 L622.6 611.4 L624.7 615.1 L626.7 618.6 L628.9 622.1 L631.1 625.5 L633.3 628.9 L635.5 632.1 L637.7 635.2 L640.0 638.3 L642.3 641.3 L644.6 644.2 L647.0 647.1 L649.4 649.8 L651.8 652.3 L653.9 654.4 L656.1 656.4 L658.3 658.2 L660.5 660.0 L662.7 661.7 L665.0 663.4 L667.2 665.1 L669.5 666.7 L671.7 668.2 L673.8 669.7 L676.0 671.1 L678.1 672.5 L680.4 673.9 L682.6 675.3 L685.0 676.6 L687.5 678.0 L690.7 679.7 L694.1 681.4 L697.6 683.2 L701.3 684.9 L704.9 686.5 L708.6 688.1 L712.2 689.6 L715.6 690.9 L718.5 691.9 L721.3 692.8 L724.1 693.6 L726.8 694.3 L729.6 695.0 L732.3 695.6 L735.2 696.3 L738.1 697.1 L741.5 698.0 L745.0 699.0 L748.5 700.0 L752.1 700.9 L755.7 701.9 L759.2 702.8 L762.8 703.6 L766.2 704.4 L769.2 705.0 L772.2 705.5 L775.1 706.0 L778.0 706.4 L780.9 706.8 L783.8 707.2 L786.8 707.6 L789.9 708.1 L793.4 708.7 L797.0 709.3 L800.6 710.0 L804.3 710.7 L808.0 711.3 L811.9 712.0 L815.7 712.6 L819.7 713.1 L824.4 713.6 L829.4 714.1 L834.4 714.5 L839.6 714.8 L844.7 715.2 L849.8 715.5 L854.8 715.8 L859.5 716.1 L863.4 716.4 L867.1 716.7 L870.6 716.9 L874.1 717.2 L877.7 717.4 L881.4 717.7 L885.2 717.9 L889.3 718.1 L895.1 718.4 L901.3 718.6 L907.8 718.8 L914.5 719.0 L921.3 719.2 L928.2 719.4 L935.1 719.6 L941.9 719.8 L949.0 720.1 L956.1 720.3 L963.2 720.6 L970.4 720.9 L977.7 721.2 L985.0 721.5 L992.5 721.8 L1000.0 722.0 L1008.4 722.2 L1017.0 722.4 L1025.6 722.7 L1034.4 722.8 L1043.2 723.0 L1052.1 723.1 L1061.0 723.2 L1070.0 723.2 L1079.5 723.1 L1089.2 723.0 L1098.9 722.8 L1108.7 722.6 L1118.6 722.4 L1128.4 722.1 L1138.2 721.9 L1148.0 721.7" stroke="#00bfbf" stroke-width="0.9"/>
<path d="M142.1 726.4 L146.0 726.2 L150.1 725.9 L154.3 725.6 L158.4 725.4 L162.4 725.1 L166.4 724.9 L170.3 724.7 L174.0 724.5 L175.1 724.5M192.0 724.0 L193.2 723.9 L196.0 723.8 L198.9 723.6 L200.0 723.6M217.0 722.3 L220.0 722.0 L223.4 721.6 L226.9 721.1 L230.5 720.7 L234.1 720.1 L237.7 719.6 L241.2 719.0 L244.6 718.5 L248.0 718.0 L249.6 717.8M266.4 715.2 L267.2 715.1 L270.0 714.5 L273.3 713.7 L274.2 713.5M290.5 709.0 L290.6 709.0 L294.2 707.8 L298.0 706.6 L303.0 704.9 L308.4 702.9 L314.0 700.8 L319.6 698.6 L321.5 697.8M337.2 691.3 L340.2 690.0 L343.1 688.7 L344.5 688.1M359.6 680.5 L360.0 680.2 L362.9 678.2 L365.8 676.0 L368.8 673.7 L371.7 671.2 L374.6 668.7 L377.4 666.1 L380.2 663.6 L382.8 661.1 L384.7 659.2M396.2 646.8 L397.6 645.2 L399.5 642.9 L401.2 640.8 L401.3 640.6M411.3 626.9 L411.7 626.2 L413.5 623.2 L415.3 620.0 L417.1 616.6 L418.8 613.1 L420.6 609.6 L422.2 606.2 L423.9 602.8 L425.4 599.5 L426.3 597.6M433.0 582.0 L433.5 580.9 L434.5 578.3 L435.4 576.0 L435.9 574.6M441.4 558.5 L441.6 557.7 L442.2 555.4 L442.8 553.2 L443.3 550.9 L443.8 548.6 L444.3 546.2 L444.9 543.7 L445.6 541.1 L446.6 537.5 L447.8 533.8 L449.0 529.9 L450.1 526.8M455.1 510.6 L455.5 509.3 L456.8 504.6 L457.3 502.9M461.5 486.5 L461.9 484.6 L463.2 479.6 L464.4 474.5 L465.5 469.5 L466.6 464.5 L467.7 459.5 L468.7 454.4 L468.7 454.3M471.9 437.7 L472.5 434.5 L473.4 429.8M476.5 413.1 L476.9 410.8 L477.6 407.2 L478.2 403.6 L478.8 400.0 L479.3 396.8 L479.8 393.7 L480.3 390.7 L480.8 387.7 L481.3 384.6 L481.7 381.5 L481.9 380.6M484.3 363.9 L484.5 362.6 L485.0 358.2 L485.4 355.9M488.1 339.2 L488.4 337.9 L489.1 334.6 L489.9 331.4 L490.7 328.2 L491.5 325.0 L492.2 321.9 L493.0 318.7 L493.7 315.5 L494.4 312.3 L495.0 309.0 L495.3 307.1M498.4 290.4 L498.6 289.6 L499.4 286.4 L500.2 283.2 L500.3 282.6M504.9 266.3 L505.6 263.8 L506.5 260.3 L507.5 256.8 L508.4 253.3 L509.4 249.8 L510.3 246.2 L511.3 242.7 L512.2 239.1 L513.2 235.6 L514.2 236.1M529.5 243.4 L530.5 243.9 L531.1 247.1 L531.7 250.4 L531.8 250.7M534.9 267.4 L535.4 269.8 L536.1 273.2 L536.8 276.7 L537.6 280.2 L538.3 283.7 L539.1 287.2 L539.9 290.7 L540.6 294.2 L541.4 297.6 L541.8 299.5M545.8 316.1 L545.9 316.5 L546.6 319.8 L547.4 323.4 L547.5 323.9M550.7 340.5 L551.5 345.0 L552.5 350.8 L553.5 356.5 L554.4 362.0 L555.3 367.2 L556.0 371.4 L556.2 373.0M558.8 389.7 L559.0 391.2 L559.7 395.1 L560.1 397.6M563.0 414.4 L563.6 417.9 L564.3 421.7 L565.1 425.7 L565.9 429.8 L567.0 434.9 L568.1 440.2 L569.3 445.7 L569.5 446.6M573.3 463.2 L574.4 468.0 L575.2 470.9M579.4 487.3 L580.1 489.9 L581.7 495.4 L583.2 500.9 L584.8 506.3 L586.3 511.8 L587.8 517.2 L588.3 519.1M592.6 535.5 L593.4 538.8 L594.6 543.2M599.5 559.5 L599.7 560.0 L601.6 565.2 L603.5 570.3 L605.6 575.5 L607.7 580.6 L609.9 585.7 L611.8 590.0M619.3 605.2 L620.6 607.7 L622.6 611.4 L623.1 612.3M631.9 626.8 L633.3 628.9 L635.5 632.1 L637.7 635.2 L640.0 638.3 L642.3 641.3 L644.6 644.2 L647.0 647.1 L649.4 649.8 L651.8 652.3 L651.9 652.4M664.7 663.3 L665.0 663.4 L667.2 665.1 L669.5 666.7 L671.2 667.9M685.4 676.8 L687.5 678.0 L690.7 679.7 L694.1 681.4 L697.6 683.2 L701.3 684.9 L704.9 686.5 L708.6 688.1 L712.2 689.6 L715.1 690.7M731.4 695.4 L732.3 695.6 L735.2 696.3 L738.1 697.1 L739.1 697.4M755.5 701.8 L755.7 701.9 L759.2 702.8 L762.8 703.6 L766.2 704.4 L769.2 705.0 L772.2 705.5 L775.1 706.0 L778.0 706.4 L780.9 706.8 L783.8 707.2 L786.8 707.6 L787.9 707.8M804.6 710.7 L808.0 711.3 L811.9 712.0 L812.5 712.1M829.4 714.1 L834.4 714.5 L839.6 714.8 L844.7 715.2 L849.8 715.5 L854.8 715.8 L859.5 716.1 L862.3 716.3M879.3 717.5 L881.4 717.7 L885.2 717.9 L887.3 718.0M904.2 718.7 L907.8 718.8 L914.5 719.0 L921.3 719.2 L928.2 719.4 L935.1 719.6 L937.2 719.6M954.2 720.3 L956.1 720.3 L962.2 720.6M979.2 721.3 L985.0 721.5 L992.5 721.8 L1000.0 722.0 L1008.4 722.2 L1012.2 722.3M1029.2 722.7 L1034.4 722.8 L1037.2 722.9M1054.2 723.1 L1061.0 723.2 L1070.0 723.2 L1079.5 723.1 L1087.2 723.1M1104.2 722.7 L1108.7 722.6 L1112.2 722.5M1129.2 722.1 L1138.2 721.9 L1148.0 721.7 L1148.0 721.7" stroke="#00bfbf" stroke-width="4"/>
<path d="M142.0 693.2 L151.4 692.6 L160.8 692.0 L170.2 691.5 L179.6 691.0 L189.0 690.4 L198.4 689.7 L207.7 688.8 L217.0 687.7 L226.4 686.3 L236.2 684.6 L246.0 682.6 L255.8 680.6 L265.3 678.6 L274.3 676.6 L282.6 674.8 L290.0 673.3 L294.1 672.5 L297.8 671.8 L301.4 671.2 L304.7 670.6 L307.9 670.0 L311.1 669.4 L314.2 668.8 L317.4 668.0 L320.3 667.2 L323.2 666.4 L326.0 665.6 L328.8 664.7 L331.6 663.8 L334.4 662.9 L337.2 662.0 L340.2 661.1 L343.7 660.1 L347.3 659.1 L351.0 658.0 L354.7 657.0 L358.4 655.9 L362.1 654.9 L365.7 653.8 L369.1 652.8 L371.9 651.9 L374.7 651.1 L377.3 650.3 L380.0 649.5 L382.6 648.6 L385.2 647.8 L387.8 646.9 L390.4 645.9 L393.1 644.9 L395.7 643.8 L398.4 642.6 L401.0 641.4 L403.7 640.2 L406.3 639.1 L409.0 637.9 L411.7 636.8 L414.5 635.7 L417.3 634.6 L420.1 633.6 L422.9 632.5 L425.7 631.5 L428.6 630.4 L431.5 629.4 L434.5 628.4 L437.8 627.3 L441.2 626.2 L444.7 625.1 L448.2 624.0 L451.7 623.0 L455.2 621.9 L458.6 621.0 L461.9 620.1 L464.8 619.3 L467.8 618.6 L470.7 617.9 L473.6 617.2 L476.4 616.6 L479.1 616.1 L481.8 615.6 L484.3 615.2 L486.2 615.0 L488.0 614.8 L489.7 614.6 L491.5 614.5 L493.1 614.5 L494.8 614.4 L496.4 614.4 L498.0 614.4 L499.4 614.4 L500.7 614.5 L501.9 614.5 L503.2 614.6 L504.4 614.7 L505.7 614.9 L507.1 615.0 L508.6 615.2 L510.9 615.5 L513.5 615.9 L516.2 616.3 L519.0 616.7 L521.9 617.3 L524.7 617.8 L527.4 618.4 L529.9 619.0 L531.9 619.6 L533.9 620.2 L535.8 620.9 L537.7 621.5 L539.5 622.2 L541.4 622.9 L543.2 623.6 L545.1 624.3 L547.0 624.9 L548.9 625.6 L550.8 626.1 L552.6 626.8 L554.5 627.4 L556.4 628.1 L558.4 628.8 L560.3 629.6 L562.5 630.6 L564.8 631.8 L567.0 633.0 L569.3 634.2 L571.5 635.5 L573.9 636.9 L576.2 638.2 L578.6 639.5 L581.3 641.0 L584.2 642.5 L587.1 644.1 L590.0 645.6 L592.9 647.2 L595.8 648.8 L598.6 650.3 L601.4 651.7 L603.8 652.9 L606.1 654.1 L608.3 655.3 L610.5 656.4 L612.8 657.5 L615.1 658.6 L617.5 659.8 L620.0 661.0 L623.4 662.6 L627.0 664.2 L630.7 666.0 L634.5 667.7 L638.4 669.4 L642.2 671.1 L645.8 672.6 L649.3 674.1 L652.0 675.2 L654.6 676.2 L657.1 677.2 L659.5 678.2 L662.0 679.1 L664.4 680.0 L666.9 681.0 L669.5 681.9 L672.4 682.9 L675.3 683.9 L678.2 685.0 L681.2 686.0 L684.2 687.0 L687.2 687.9 L690.2 688.9 L693.1 689.8 L695.9 690.6 L698.7 691.5 L701.4 692.3 L704.2 693.0 L707.0 693.8 L709.8 694.5 L712.7 695.3 L715.6 696.0 L719.0 696.8 L722.5 697.6 L726.0 698.5 L729.6 699.3 L733.2 700.0 L736.8 700.8 L740.3 701.5 L743.7 702.2 L746.6 702.8 L749.5 703.3 L752.3 703.8 L755.1 704.2 L757.8 704.7 L760.6 705.2 L763.4 705.6 L766.2 706.1 L769.1 706.6 L772.1 707.2 L775.1 707.7 L778.1 708.3 L781.1 708.8 L784.1 709.3 L787.0 709.8 L790.0 710.2 L792.8 710.5 L795.6 710.8 L798.3 711.0 L801.0 711.2 L803.8 711.3 L806.6 711.5 L809.5 711.7 L812.5 711.9 L816.2 712.2 L820.1 712.5 L824.1 712.9 L828.2 713.3 L832.2 713.6 L836.3 714.0 L840.2 714.4 L844.0 714.7 L847.2 715.0 L850.3 715.3 L853.3 715.6 L856.3 715.9 L859.3 716.2 L862.3 716.5 L865.4 716.8 L868.7 717.0 L872.7 717.3 L876.7 717.5 L880.9 717.7 L885.1 718.0 L889.4 718.2 L893.7 718.3 L898.1 718.5 L902.5 718.7 L907.3 718.9 L912.3 719.0 L917.3 719.1 L922.4 719.2 L927.5 719.3 L932.4 719.5 L937.3 719.6 L941.9 719.8 L945.5 720.0 L948.9 720.2 L952.0 720.4 L955.2 720.7 L958.4 720.9 L961.9 721.1 L965.7 721.3 L970.0 721.5 L979.6 721.8 L991.0 722.0 L1003.5 722.1 L1016.9 722.2 L1030.7 722.3 L1044.4 722.3 L1057.7 722.4 L1070.0 722.5 L1080.2 722.6 L1090.2 722.7 L1100.0 722.7 L1109.6 722.8 L1119.2 722.8 L1128.7 722.9 L1138.3 722.9 L1148.0 723.0" stroke="#bf00bf" stroke-width="0.9"/>
<path d="M142.0 693.2 L151.4 692.6 L160.8 692.0 L170.2 691.5 L174.7 691.3M191.6 690.2 L198.4 689.7 L199.6 689.6M216.5 687.8 L217.0 687.7 L224.4 686.6M241.1 683.6 L246.0 682.6 L255.8 680.6 L265.3 678.6 L273.4 676.8M290.1 673.3 L294.1 672.5 L297.8 671.8 L297.9 671.8M314.6 668.7 L317.4 668.0 L320.3 667.2 L322.4 666.7M338.6 661.6 L340.2 661.1 L343.7 660.1 L347.3 659.1 L351.0 658.0 L354.7 657.0 L358.4 655.9 L362.1 654.9 L365.7 653.8 L369.1 652.8 L370.0 652.5M386.0 647.5 L387.8 646.9 L390.4 645.9 L393.1 644.9 L393.4 644.7M408.8 638.0 L409.0 637.9 L411.7 636.8 L414.5 635.7 L416.2 635.0M432.0 629.3 L434.5 628.4 L437.8 627.3 L441.2 626.2 L444.7 625.1 L448.2 624.0 L451.7 623.0 L455.2 621.9 L458.6 621.0 L461.9 620.1 L463.6 619.7M480.2 615.9 L481.8 615.6 L484.3 615.2 L486.2 615.0 L488.0 614.8 L488.2 614.8M505.2 614.8 L505.7 614.9 L507.1 615.0 L508.6 615.2 L510.9 615.5 L513.2 615.8M529.9 619.0 L531.9 619.6 L533.9 620.2 L535.8 620.9 L537.7 621.5 L539.5 622.2 L541.4 622.9 L543.2 623.6 L545.1 624.3 L547.0 624.9 L548.9 625.6 L550.8 626.1 L552.6 626.8 L554.5 627.4 L556.4 628.1 L558.4 628.8 L560.3 629.6 L560.9 629.9M575.8 637.9 L576.2 638.2 L578.6 639.5 L581.3 641.0 L582.8 641.7M597.7 649.8 L598.6 650.3 L601.4 651.7 L603.8 652.9 L604.7 653.4M619.9 661.0 L620.0 661.0 L623.4 662.6 L627.0 664.2 L630.7 666.0 L634.5 667.7 L638.4 669.4 L642.2 671.1 L645.8 672.6 L649.3 674.1 L649.8 674.3M665.5 680.4 L666.9 681.0 L669.5 681.9 L672.4 682.9 L673.0 683.1M688.9 688.5 L690.2 688.9 L693.1 689.8 L695.9 690.6 L696.5 690.8M712.8 695.3 L715.6 696.0 L719.0 696.8 L722.5 697.6 L726.0 698.5 L729.6 699.3 L733.2 700.0 L736.8 700.8 L740.3 701.5 L743.7 702.2 L744.9 702.4M761.6 705.3 L763.4 705.6 L766.2 706.1 L769.1 706.6 L769.4 706.7M786.1 709.7 L787.0 709.8 L790.0 710.2 L792.8 710.5 L794.0 710.6M810.9 711.8 L812.5 711.9 L816.2 712.2 L820.1 712.5 L824.1 712.9 L828.2 713.3 L832.2 713.6 L836.3 714.0 L840.2 714.4 L843.8 714.7M860.7 716.3 L862.3 716.5 L865.4 716.8 L868.7 717.0M885.6 718.0 L889.4 718.2 L893.6 718.3M910.6 719.0 L912.3 719.0 L917.3 719.1 L922.4 719.2 L927.5 719.3 L932.4 719.5 L937.3 719.6 L941.9 719.8 L943.6 719.9M960.6 721.0 L961.9 721.1 L965.7 721.3 L968.6 721.4M985.6 721.9 L991.0 722.0 L993.6 722.0M1010.6 722.2 L1016.9 722.2 L1030.7 722.3 L1043.6 722.3M1060.6 722.4 L1068.6 722.5M1085.6 722.6 L1090.2 722.7 L1093.6 722.7M1110.6 722.8 L1119.2 722.8 L1128.7 722.9 L1138.3 722.9 L1143.6 723.0" stroke="#bf00bf" stroke-width="4"/>
<path d="M142.0 727.6 L189.2 727.6 L236.5 727.6 L283.8 727.6 L331.0 727.6 L378.2 727.6 L425.5 727.6 L472.8 727.6 L520.0 727.6 L532.8 727.2 L545.9 726.8 L559.2 726.4 L572.5 726.1 L585.4 725.7 L597.8 725.3 L609.4 725.0 L620.0 724.7 L626.5 724.5 L632.7 724.4 L638.5 724.3 L644.1 724.1 L649.4 724.0 L654.7 723.9 L659.8 723.7 L665.0 723.6 L669.4 723.5 L673.6 723.4 L677.8 723.2 L682.0 723.1 L686.0 723.0 L689.9 722.8 L693.8 722.6 L697.6 722.4 L700.7 722.2 L703.8 722.0 L706.8 721.7 L709.7 721.4 L712.6 721.2 L715.4 720.9 L718.3 720.5 L721.2 720.2 L724.0 719.8 L726.8 719.4 L729.6 719.0 L732.4 718.6 L735.2 718.2 L738.0 717.7 L740.8 717.2 L743.7 716.8 L746.8 716.3 L749.9 715.9 L753.0 715.5 L756.2 715.0 L759.3 714.5 L762.4 714.0 L765.5 713.5 L768.5 712.9 L771.3 712.3 L774.2 711.6 L777.0 710.9 L779.8 710.2 L782.6 709.5 L785.2 708.7 L787.6 707.9 L789.9 707.1 L791.3 706.5 L792.7 705.9 L793.9 705.3 L795.0 704.7 L796.2 704.1 L797.4 703.5 L798.6 702.8 L800.0 702.2 L802.0 701.4 L804.1 700.6 L806.3 699.9 L808.6 699.1 L810.9 698.3 L813.2 697.4 L815.5 696.3 L817.7 695.2 L820.0 693.8 L822.2 692.2 L824.4 690.6 L826.6 688.8 L828.8 686.9 L831.0 685.1 L833.3 683.2 L835.6 681.3 L838.3 679.2 L841.0 677.0 L843.9 674.8 L846.7 672.5 L849.5 670.2 L852.3 667.9 L855.0 665.7 L857.5 663.4 L859.6 661.4 L861.7 659.4 L863.7 657.3 L865.6 655.3 L867.5 653.3 L869.5 651.3 L871.4 649.4 L873.4 647.5 L875.4 645.7 L877.3 643.9 L879.3 642.1 L881.3 640.3 L883.4 638.6 L885.4 637.1 L887.3 635.7 L889.3 634.6 L890.8 633.9 L892.3 633.2 L893.7 632.6 L895.2 632.1 L896.6 631.7 L898.1 631.4 L899.6 631.3 L901.2 631.2 L903.1 631.3 L905.1 631.6 L907.1 632.0 L909.2 632.5 L911.2 633.2 L913.2 633.9 L915.2 634.7 L917.1 635.5 L918.8 636.3 L920.5 637.2 L922.2 638.1 L923.9 639.1 L925.5 640.2 L927.0 641.2 L928.5 642.4 L930.0 643.5 L931.3 644.6 L932.5 645.8 L933.7 647.0 L934.8 648.3 L936.0 649.5 L937.2 650.8 L938.5 652.1 L939.9 653.4 L942.0 655.1 L944.3 656.8 L946.8 658.6 L949.4 660.3 L952.0 662.1 L954.6 663.9 L957.3 665.6 L959.8 667.4 L962.3 669.2 L964.7 670.9 L967.2 672.7 L969.7 674.5 L972.1 676.3 L974.6 678.0 L977.1 679.7 L979.6 681.3 L982.0 682.8 L984.4 684.3 L986.9 685.7 L989.3 687.1 L991.7 688.5 L994.3 689.8 L996.8 691.0 L999.5 692.2 L1002.5 693.4 L1005.7 694.5 L1008.9 695.6 L1012.2 696.6 L1015.6 697.5 L1018.9 698.4 L1022.2 699.3 L1025.4 700.2 L1028.4 701.0 L1031.4 701.9 L1034.4 702.7 L1037.4 703.4 L1040.4 704.2 L1043.4 704.9 L1046.3 705.5 L1049.2 706.1 L1051.8 706.6 L1054.2 707.0 L1056.5 707.4 L1058.8 707.7 L1061.3 708.1 L1063.9 708.4 L1066.8 708.8 L1070.0 709.2 L1077.4 710.1 L1086.0 711.1 L1095.6 712.2 L1105.9 713.3 L1116.6 714.5 L1127.3 715.6 L1137.9 716.8 L1148.0 717.9" stroke="#bfbf00" stroke-width="0.9"/>
<path d="M142.0 727.6 L146.9 727.6M163.9 727.6 L189.2 727.6 L196.9 727.6M213.9 727.6 L236.5 727.6 L246.9 727.6M263.9 727.6 L271.9 727.6M288.9 727.6 L321.9 727.6M338.9 727.6 L371.9 727.6M388.9 727.6 L396.9 727.6M413.9 727.6 L425.5 727.6 L446.9 727.6M463.9 727.6 L472.8 727.6 L496.9 727.6M513.9 727.6 L520.0 727.6 L521.9 727.5M538.9 727.0 L545.9 726.8 L559.2 726.4 L571.9 726.1M588.9 725.6 L597.8 725.3 L609.4 725.0 L620.0 724.7 L621.9 724.7M638.9 724.2 L644.1 724.1 L646.9 724.1M663.9 723.6 L665.0 723.6 L669.4 723.5 L673.6 723.4 L677.8 723.2 L682.0 723.1 L686.0 723.0 L689.9 722.8 L693.8 722.6 L696.8 722.4M713.8 721.0 L715.4 720.9 L718.3 720.5 L721.2 720.2 L724.0 719.8 L726.8 719.4 L729.6 719.0 L732.4 718.6 L735.2 718.2 L738.0 717.7 L740.8 717.2 L743.7 716.8 L746.5 716.4M763.3 713.9 L765.5 713.5 L768.5 712.9 L771.1 712.3M787.5 707.9 L787.6 707.9 L789.9 707.1 L791.3 706.5 L792.7 705.9 L793.9 705.3 L795.0 704.7 L796.2 704.1 L797.4 703.5 L798.6 702.8 L800.0 702.2 L802.0 701.4 L804.1 700.6 L806.3 699.9 L808.6 699.1 L810.9 698.3 L813.2 697.4 L815.5 696.3 L817.7 695.2 L817.9 695.1M831.4 684.8 L833.3 683.2 L835.6 681.3 L838.3 679.2 L841.0 677.0 L843.9 674.8 L846.7 672.5 L849.5 670.2 L852.3 667.9 L855.0 665.7 L856.9 663.9M868.9 651.9 L869.5 651.3 L871.4 649.4 L873.4 647.5 L874.7 646.3M887.9 635.4 L889.3 634.6 L890.8 633.9 L892.3 633.2 L893.7 632.6 L895.2 632.1 L896.6 631.7 L898.1 631.4 L899.6 631.3 L901.2 631.2 L903.1 631.3 L905.1 631.6 L907.1 632.0 L909.2 632.5 L911.2 633.2 L913.2 633.9 L915.2 634.7 L917.1 635.5 L918.8 636.3 L919.3 636.5M933.2 646.5 L933.7 647.0 L934.8 648.3 L936.0 649.5 L937.2 650.8 L938.5 652.1 L939.9 653.4 L942.0 655.1 L944.3 656.8 L946.8 658.6 L949.4 660.3 L952.0 662.1 L954.6 663.9 L957.3 665.6 L959.1 666.9M973.0 676.9 L974.6 678.0 L977.1 679.7 L979.6 681.3 L979.7 681.3M994.4 689.8 L996.8 691.0 L999.5 692.2 L1002.5 693.4 L1005.7 694.5 L1008.9 695.6 L1012.2 696.6 L1015.6 697.5 L1018.9 698.4 L1022.2 699.3 L1025.4 700.2 L1025.6 700.3M1042.1 704.5 L1043.4 704.9 L1046.3 705.5 L1049.2 706.1 L1051.8 706.6 L1054.2 707.0 L1056.5 707.4 L1058.8 707.7 L1061.3 708.1 L1063.9 708.4 L1066.8 708.8 L1070.0 709.2 L1074.6 709.8M1091.5 711.7 L1095.6 712.2 L1099.5 712.6M1116.4 714.5 L1116.6 714.5 L1127.3 715.6 L1137.9 716.8 L1148.0 717.9 L1148.0 717.9" stroke="#bfbf00" stroke-width="4"/>
<path d="M142.0 727.6 L186.8 727.6 L231.5 727.6 L276.2 727.6 L321.0 727.6 L365.8 727.6 L410.5 727.6 L455.2 727.6 L500.0 727.6 L501.9 727.5 L503.8 727.4 L505.7 727.4 L507.6 727.3 L509.4 727.2 L511.3 727.1 L513.2 727.0 L515.0 726.8 L516.7 726.6 L518.4 726.3 L520.1 726.1 L521.8 725.8 L523.4 725.5 L525.1 725.2 L526.7 724.9 L528.4 724.6 L530.1 725.0 L531.8 725.4 L533.5 725.7 L535.2 726.1 L536.9 726.5 L538.6 726.8 L540.3 727.2 L542.0 727.6 L561.8 727.6 L581.5 727.6 L601.2 727.6 L621.0 727.6 L640.8 727.6 L660.5 727.6 L680.2 727.6 L700.0 727.6 L707.6 727.3 L715.3 727.0 L723.0 726.6 L730.8 726.3 L738.4 726.0 L745.9 725.7 L753.1 725.4 L760.0 725.2 L765.5 725.0 L770.8 724.9 L776.1 724.8 L781.2 724.8 L786.2 724.7 L791.0 724.5 L795.6 724.4 L800.0 724.1 L803.1 723.8 L806.0 723.6 L808.7 723.2 L811.4 722.9 L814.1 722.6 L816.8 722.2 L819.6 721.8 L822.6 721.5 L826.6 721.1 L830.8 720.7 L835.2 720.2 L839.6 719.8 L844.1 719.4 L848.6 719.0 L853.1 718.5 L857.5 718.1 L861.7 717.7 L866.0 717.3 L870.2 716.8 L874.4 716.4 L878.6 716.0 L882.8 715.5 L887.0 715.1 L891.2 714.7 L895.4 714.3 L899.6 713.9 L903.9 713.4 L908.1 713.0 L912.3 712.6 L916.6 712.2 L920.8 711.8 L925.0 711.4 L929.2 711.0 L933.4 710.7 L937.5 710.3 L941.7 710.0 L945.8 709.7 L950.1 709.3 L954.3 709.0 L958.7 708.6 L963.6 708.1 L968.6 707.6 L973.7 707.1 L978.9 706.5 L984.1 706.0 L989.2 705.5 L994.4 705.0 L999.5 704.7 L1004.5 704.5 L1009.6 704.3 L1014.7 704.2 L1019.7 704.1 L1024.8 704.1 L1029.7 704.1 L1034.6 704.1 L1039.3 704.1 L1043.3 704.1 L1047.2 704.1 L1051.0 704.2 L1054.7 704.2 L1058.4 704.3 L1062.2 704.4 L1066.0 704.5 L1070.0 704.6 L1074.6 704.7 L1079.2 704.9 L1083.9 705.1 L1088.7 705.3 L1093.5 705.5 L1098.3 705.8 L1103.2 706.0 L1108.0 706.2 L1113.0 706.4 L1117.9 706.6 L1122.9 706.9 L1127.9 707.1 L1133.0 707.3 L1138.0 707.5 L1143.0 707.8 L1148.0 708.0" stroke="#000000" stroke-width="0.9"/>
<path d="M142.0 727.6 L150.0 727.6M158.5 727.6 L166.5 727.6M175.0 727.6 L183.0 727.6M191.5 727.6 L199.5 727.6M208.0 727.6 L216.0 727.6M224.5 727.6 L231.5 727.6 L232.5 727.6M241.0 727.6 L249.0 727.6M257.5 727.6 L265.5 727.6M274.0 727.6 L276.2 727.6 L282.0 727.6M290.5 727.6 L298.5 727.6M307.0 727.6 L315.0 727.6M323.5 727.6 L331.5 727.6M340.0 727.6 L348.0 727.6M356.5 727.6 L364.5 727.6M373.0 727.6 L381.0 727.6M389.5 727.6 L397.5 727.6M406.0 727.6 L410.5 727.6 L414.0 727.6M422.5 727.6 L430.5 727.6M439.0 727.6 L447.0 727.6M455.5 727.6 L463.5 727.6M472.0 727.6 L480.0 727.6M488.5 727.6 L496.5 727.6M505.0 727.4 L505.7 727.4 L507.6 727.3 L509.4 727.2 L511.3 727.1 L513.0 727.0M521.4 725.8 L521.8 725.8 L523.4 725.5 L525.1 725.2 L526.7 724.9 L528.4 724.6 L529.3 724.8M537.6 726.6 L538.6 726.8 L540.3 727.2 L542.0 727.6 L545.5 727.6M554.0 727.6 L561.8 727.6 L562.0 727.6M570.5 727.6 L578.5 727.6M587.0 727.6 L595.0 727.6M603.5 727.6 L611.5 727.6M620.0 727.6 L621.0 727.6 L628.0 727.6M636.5 727.6 L640.8 727.6 L644.5 727.6M653.0 727.6 L660.5 727.6 L661.0 727.6M669.5 727.6 L677.5 727.6M686.0 727.6 L694.0 727.6M702.5 727.5 L707.6 727.3 L710.5 727.2M719.0 726.8 L723.0 726.6 L726.9 726.5M735.4 726.1 L738.4 726.0 L743.4 725.8M751.9 725.5 L753.1 725.4 L759.9 725.2M768.4 725.0 L770.8 724.9 L776.1 724.8 L776.4 724.8M784.9 724.7 L786.2 724.7 L791.0 724.5 L792.9 724.5M801.4 724.0 L803.1 723.8 L806.0 723.6 L808.7 723.2 L809.4 723.2M817.8 722.1 L819.6 721.8 L822.6 721.5 L825.7 721.2M834.2 720.3 L835.2 720.2 L839.6 719.8 L842.2 719.6M850.6 718.8 L853.1 718.5 L857.5 718.1 L858.6 718.0M867.0 717.1 L870.2 716.8 L874.4 716.4 L875.0 716.3M883.5 715.5 L887.0 715.1 L891.2 714.7 L891.4 714.7M899.9 713.8 L903.9 713.4 L907.8 713.0M916.3 712.2 L916.6 712.2 L920.8 711.8 L924.3 711.5M932.7 710.7 L933.4 710.7 L937.5 710.3 L940.7 710.1M949.2 709.4 L950.1 709.3 L954.3 709.0 L957.1 708.7M965.6 707.9 L968.6 707.6 L973.6 707.1M982.0 706.2 L984.1 706.0 L989.2 705.5 L990.0 705.4M998.4 704.8 L999.5 704.7 L1004.5 704.5 L1006.4 704.4M1014.9 704.2 L1019.7 704.1 L1022.9 704.1M1031.4 704.1 L1034.6 704.1 L1039.3 704.1 L1039.4 704.1M1047.9 704.1 L1051.0 704.2 L1054.7 704.2 L1055.9 704.3M1064.4 704.4 L1066.0 704.5 L1070.0 704.6 L1072.4 704.7M1080.9 705.0 L1083.9 705.1 L1088.7 705.3 L1088.9 705.3M1097.4 705.7 L1098.3 705.8 L1103.2 706.0 L1105.4 706.1M1113.9 706.5 L1117.9 706.6 L1121.9 706.8M1130.4 707.2 L1133.0 707.3 L1138.0 707.5 L1138.4 707.6M1146.9 707.9 L1148.0 708.0 L1148.0 708.0" stroke="#000000" stroke-width="4"/>
<path d="M142.0 727.6 L560.0 727.6 L620.0 724.1 L640.2 721.9 L652.6 719.1 L668.4 708.4 L684.1 683.6 L697.6 700.5 L705.0 707.5 L717.5 712.5 L730.0 716.3 L735.9 717.9 L766.2 721.3 L800.0 722.4 L859.7 722.4 L902.5 721.7 L941.9 722.1 L999.5 721.0 L1039.0 720.0 L1070.0 719.0 L1108.0 717.9 L1148.0 721.7" stroke="#008000" stroke-width="0.9"/>
<path d="M142.3 727.6 L224.3 727.6M266.8 727.6 L348.8 727.6M391.3 727.6 L473.3 727.6M515.8 727.6 L560.0 727.6 L597.7 725.4M640.1 721.9 L640.2 721.9 L652.6 719.1 L668.4 708.4 L684.1 683.6 L697.1 699.9M735.0 717.6 L735.9 717.9 L766.2 721.3 L800.0 722.4 L816.7 722.4M859.2 722.4 L859.7 722.4 L902.5 721.7 L941.2 722.1M983.7 721.3 L999.5 721.0 L1039.0 720.0 L1065.7 719.1M1108.2 717.9 L1148.0 721.7 L1148.0 721.7" stroke="#008000" stroke-width="4"/>
<path d="M142.0 727.6 L249.1 727.6 L356.2 727.6 L463.4 727.6 L570.5 727.6 L677.6 727.6 L784.8 727.6 L891.9 727.6 L999.0 727.6 L999.3 726.5 L999.6 725.4 L999.9 724.4 L1000.2 723.3 L1000.6 722.2 L1000.9 721.1 L1001.2 720.1 L1001.5 719.0 L1002.4 718.0 L1003.2 717.0 L1004.1 716.0 L1005.0 715.0 L1005.9 714.1 L1006.8 713.1 L1007.6 712.1 L1008.5 711.1 L1013.4 711.1 L1018.3 711.1 L1023.2 711.1 L1028.1 711.0 L1032.9 711.0 L1037.8 711.0 L1042.5 711.0 L1047.2 711.1 L1051.3 711.2 L1055.3 711.3 L1059.2 711.4 L1063.0 711.6 L1067.0 711.7 L1071.0 711.9 L1075.4 712.0 L1080.0 712.1 L1087.3 712.2 L1095.3 712.2 L1103.7 712.3 L1112.5 712.2 L1121.4 712.2 L1130.4 712.2 L1139.3 712.2 L1148.0 712.2" stroke="#ff0000" stroke-width="0.9"/>
<path d="M143.6 727.6 L184.6 727.6M206.0 727.6 L247.0 727.6M268.4 727.6 L309.4 727.6M330.8 727.6 L356.2 727.6 L371.8 727.6M393.2 727.6 L434.2 727.6M455.6 727.6 L463.4 727.6 L496.6 727.6M518.0 727.6 L559.0 727.6M580.4 727.6 L621.4 727.6M642.8 727.6 L677.6 727.6 L683.8 727.6M705.2 727.6 L746.2 727.6M767.6 727.6 L784.8 727.6 L808.6 727.6M830.0 727.6 L871.0 727.6M892.4 727.6 L933.4 727.6M954.8 727.6 L995.8 727.6M1007.6 712.1 L1007.6 712.1 L1008.5 711.1 L1013.4 711.1 L1018.3 711.1 L1023.2 711.1 L1028.1 711.0 L1032.9 711.0 L1037.8 711.0 L1042.5 711.0 L1047.2 711.1 L1048.2 711.1M1069.6 711.8 L1071.0 711.9 L1075.4 712.0 L1080.0 712.1 L1087.3 712.2 L1095.3 712.2 L1103.7 712.3 L1110.6 712.2M1132.0 712.2 L1139.3 712.2 L1148.0 712.2 L1148.0 712.2" stroke="#ff0000" stroke-width="4"/>
<path d="M142.0 727.6 L224.2 727.6 L306.5 727.6 L388.8 727.6 L471.0 727.6 L553.2 727.6 L635.5 727.6 L717.8 727.6 L800.0 727.6 L811.7 727.2 L823.8 726.7 L836.1 726.3 L848.4 725.8 L860.2 725.4 L871.5 725.0 L881.9 724.6 L891.2 724.3 L896.2 724.1 L900.7 724.0 L904.9 723.8 L908.8 723.7 L912.7 723.6 L916.6 723.4 L920.7 723.3 L925.0 723.2 L930.4 723.1 L936.0 723.0 L941.8 722.8 L947.7 722.7 L953.5 722.6 L959.3 722.5 L964.8 722.3 L970.0 722.1 L974.0 721.9 L977.7 721.6 L981.3 721.3 L984.9 721.0 L988.4 720.8 L992.0 720.5 L995.6 720.2 L999.5 720.0 L1004.2 719.8 L1009.2 719.6 L1014.2 719.5 L1019.3 719.4 L1024.5 719.3 L1029.6 719.2 L1034.5 719.1 L1039.3 719.0 L1043.4 718.9 L1047.4 718.8 L1051.3 718.7 L1055.2 718.5 L1059.0 718.4 L1062.7 718.3 L1066.4 718.1 L1070.0 717.9 L1073.0 717.7 L1076.0 717.5 L1078.8 717.3 L1081.7 717.0 L1084.5 716.7 L1087.2 716.5 L1090.0 716.2 L1092.8 715.9 L1095.5 715.6 L1098.1 715.3 L1100.6 715.0 L1103.2 714.8 L1105.8 714.4 L1108.5 714.1 L1111.2 713.7 L1114.1 713.3 L1118.0 712.7 L1122.0 712.0 L1126.2 711.3 L1130.6 710.6 L1134.9 709.8 L1139.3 709.0 L1143.7 708.2 L1148.0 707.5" stroke="#0000ff" stroke-width="0.9"/>
<path d="M142.0 727.6 L175.0 727.6M192.0 727.6 L200.0 727.6M217.0 727.6 L224.2 727.6 L225.0 727.6M242.0 727.6 L275.0 727.6M292.0 727.6 L300.0 727.6M317.0 727.6 L325.0 727.6M342.0 727.6 L375.0 727.6M392.0 727.6 L400.0 727.6M417.0 727.6 L425.0 727.6M442.0 727.6 L471.0 727.6 L475.0 727.6M492.0 727.6 L500.0 727.6M517.0 727.6 L525.0 727.6M542.0 727.6 L553.2 727.6 L575.0 727.6M592.0 727.6 L600.0 727.6M617.0 727.6 L625.0 727.6M642.0 727.6 L675.0 727.6M692.0 727.6 L700.0 727.6M717.0 727.6 L717.8 727.6 L725.0 727.6M742.0 727.6 L775.0 727.6M792.0 727.6 L800.0 727.6 L800.0 727.6M817.0 727.0 L823.8 726.7 L825.0 726.7M842.0 726.1 L848.4 725.8 L860.2 725.4 L871.5 725.0 L875.0 724.9M891.9 724.3 L896.2 724.1 L899.9 724.0M916.9 723.4 L920.7 723.3 L924.9 723.2M941.9 722.8 L947.7 722.7 L953.5 722.6 L959.3 722.5 L964.8 722.3 L970.0 722.1 L974.0 721.9 L974.9 721.8M991.8 720.5 L992.0 720.5 L995.6 720.2 L999.5 720.0 L999.8 720.0M1016.8 719.5 L1019.3 719.4 L1024.5 719.3 L1024.8 719.3M1041.8 718.9 L1043.4 718.9 L1047.4 718.8 L1051.3 718.7 L1055.2 718.5 L1059.0 718.4 L1062.7 718.3 L1066.4 718.1 L1070.0 717.9 L1073.0 717.7 L1074.8 717.6M1091.7 716.0 L1092.8 715.9 L1095.5 715.6 L1098.1 715.3 L1099.7 715.2M1116.5 712.9 L1118.0 712.7 L1122.0 712.0 L1124.4 711.6M1141.2 708.7 L1143.7 708.2 L1148.0 707.5 L1148.0 707.5" stroke="#0000ff" stroke-width="4"/>
<path d="M142 727.6 H1148" stroke="#bf00bf" stroke-width="4.4"/>
<circle cx="222.8" cy="698.4" r="4.1" fill="#f00" stroke="#000" stroke-width="1.7"/>
<circle cx="312.1" cy="656.6" r="4.1" fill="#f00" stroke="#000" stroke-width="1.7"/>
<circle cx="350.8" cy="642.9" r="4.1" fill="#f00" stroke="#000" stroke-width="1.7"/>
<circle cx="409.0" cy="546.4" r="4.1" fill="#f00" stroke="#000" stroke-width="1.7"/>
<circle cx="439.6" cy="454.6" r="4.1" fill="#f00" stroke="#000" stroke-width="1.7"/>
<circle cx="459.1" cy="448.0" r="4.1" fill="#f00" stroke="#000" stroke-width="1.7"/>
<circle cx="474.8" cy="305.5" r="4.1" fill="#f00" stroke="#000" stroke-width="1.7"/>
<circle cx="490.1" cy="217.9" r="4.1" fill="#f00" stroke="#000" stroke-width="1.7"/>
<circle cx="501.7" cy="131.3" r="4.1" fill="#f00" stroke="#000" stroke-width="1.7"/>
<circle cx="509.6" cy="133.7" r="4.1" fill="#f00" stroke="#000" stroke-width="1.7"/>
<circle cx="517.2" cy="151.2" r="4.1" fill="#f00" stroke="#000" stroke-width="1.7"/>
<circle cx="524.9" cy="241.5" r="4.1" fill="#f00" stroke="#000" stroke-width="1.7"/>
<circle cx="532.6" cy="164.3" r="4.1" fill="#f00" stroke="#000" stroke-width="1.7"/>
<circle cx="540.6" cy="171.3" r="4.1" fill="#f00" stroke="#000" stroke-width="1.7"/>
<circle cx="551.9" cy="257.4" r="4.1" fill="#f00" stroke="#000" stroke-width="1.7"/>
<circle cx="567.8" cy="361.9" r="4.1" fill="#f00" stroke="#000" stroke-width="1.7"/>
<circle cx="582.9" cy="432.7" r="4.1" fill="#f00" stroke="#000" stroke-width="1.7"/>
<circle cx="598.7" cy="465.5" r="4.1" fill="#f00" stroke="#000" stroke-width="1.7"/>
<circle cx="614.0" cy="519.6" r="4.1" fill="#f00" stroke="#000" stroke-width="1.7"/>
<circle cx="629.5" cy="566.4" r="4.1" fill="#f00" stroke="#000" stroke-width="1.7"/>
<circle cx="648.8" cy="574.2" r="4.1" fill="#f00" stroke="#000" stroke-width="1.7"/>
<circle cx="664.1" cy="620.5" r="4.1" fill="#f00" stroke="#000" stroke-width="1.7"/>
<circle cx="699.1" cy="666.2" r="4.1" fill="#f00" stroke="#000" stroke-width="1.7"/>
<circle cx="730.3" cy="663.3" r="4.1" fill="#f00" stroke="#000" stroke-width="1.7"/>
<circle cx="757.2" cy="648.3" r="4.1" fill="#f00" stroke="#000" stroke-width="1.7"/>
<circle cx="780.9" cy="656.4" r="4.1" fill="#f00" stroke="#000" stroke-width="1.7"/>
<circle cx="803.8" cy="641.5" r="4.1" fill="#f00" stroke="#000" stroke-width="1.7"/>
<circle cx="811.7" cy="640.5" r="4.1" fill="#f00" stroke="#000" stroke-width="1.7"/>
<circle cx="834.6" cy="629.2" r="4.1" fill="#f00" stroke="#000" stroke-width="1.7"/>
<circle cx="854.1" cy="618.6" r="4.1" fill="#f00" stroke="#000" stroke-width="1.7"/>
<circle cx="869.8" cy="608.7" r="4.1" fill="#f00" stroke="#000" stroke-width="1.7"/>
<circle cx="885.3" cy="600.8" r="4.1" fill="#f00" stroke="#000" stroke-width="1.7"/>
<circle cx="900.6" cy="591.2" r="4.1" fill="#f00" stroke="#000" stroke-width="1.7"/>
<circle cx="916.1" cy="587.2" r="4.1" fill="#f00" stroke="#000" stroke-width="1.7"/>
<circle cx="935.5" cy="595.4" r="4.1" fill="#f00" stroke="#000" stroke-width="1.7"/>
<circle cx="950.8" cy="625.6" r="4.1" fill="#f00" stroke="#000" stroke-width="1.7"/>
<circle cx="970.7" cy="650.5" r="4.1" fill="#f00" stroke="#000" stroke-width="1.7"/>
<circle cx="989.6" cy="653.8" r="4.1" fill="#f00" stroke="#000" stroke-width="1.7"/>
<rect x="141.7" y="710.3" width="8.4" height="8.4" fill="#008000" stroke="#000" stroke-width="1.7"/>
<rect x="149.1" y="693.0" width="8.4" height="8.4" fill="#008000" stroke="#000" stroke-width="1.7"/>
<rect x="156.7" y="681.9" width="8.4" height="8.4" fill="#008000" stroke="#000" stroke-width="1.7"/>
<rect x="164.6" y="681.9" width="8.4" height="8.4" fill="#008000" stroke="#000" stroke-width="1.7"/>
<rect x="207.3" y="685.8" width="8.4" height="8.4" fill="#008000" stroke="#000" stroke-width="1.7"/>
<rect x="276.8" y="650.3" width="8.4" height="8.4" fill="#008000" stroke="#000" stroke-width="1.7"/>
<rect x="341.8" y="630.3" width="8.4" height="8.4" fill="#008000" stroke="#000" stroke-width="1.7"/>
<rect x="394.7" y="593.2" width="8.4" height="8.4" fill="#008000" stroke="#000" stroke-width="1.7"/>
<rect x="423.8" y="606.9" width="8.4" height="8.4" fill="#008000" stroke="#000" stroke-width="1.7"/>
<rect x="443.8" y="559.7" width="8.4" height="8.4" fill="#008000" stroke="#000" stroke-width="1.7"/>
<rect x="462.7" y="456.8" width="8.4" height="8.4" fill="#008000" stroke="#000" stroke-width="1.7"/>
<rect x="481.9" y="315.3" width="8.4" height="8.4" fill="#008000" stroke="#000" stroke-width="1.7"/>
<rect x="501.6" y="143.5" width="8.4" height="8.4" fill="#008000" stroke="#000" stroke-width="1.7"/>
<rect x="520.7" y="247.1" width="8.4" height="8.4" fill="#008000" stroke="#000" stroke-width="1.7"/>
<rect x="540.1" y="394.6" width="8.4" height="8.4" fill="#008000" stroke="#000" stroke-width="1.7"/>
<rect x="559.7" y="373.7" width="8.4" height="8.4" fill="#008000" stroke="#000" stroke-width="1.7"/>
<rect x="578.6" y="463.3" width="8.4" height="8.4" fill="#008000" stroke="#000" stroke-width="1.7"/>
<rect x="598.2" y="600.0" width="8.4" height="8.4" fill="#008000" stroke="#000" stroke-width="1.7"/>
<rect x="618.8" y="586.5" width="8.4" height="8.4" fill="#008000" stroke="#000" stroke-width="1.7"/>
<rect x="638.7" y="623.3" width="8.4" height="8.4" fill="#008000" stroke="#000" stroke-width="1.7"/>
<rect x="663.9" y="634.2" width="8.4" height="8.4" fill="#008000" stroke="#000" stroke-width="1.7"/>
</g>
<rect x="142" y="62.3" width="1006" height="665.3" fill="none" stroke="#000" stroke-width="1.4"/>
<path d="M235.3 727.6v9.0M390.0 727.6v9.0M544.8 727.6v9.0M699.5 727.6v9.0M854.2 727.6v9.0M1009.0 727.6v9.0M142 727.6h-9.0M142 637.8h-9.0M142 547.9h-9.0M142 458.1h-9.0M142 368.2h-9.0M142 278.4h-9.0M142 188.6h-9.0M142 98.7h-9.0" stroke="#000" stroke-width="1.8" fill="none"/>
<path d="M157.9 727.6v5.0M196.6 727.6v5.0M274.0 727.6v5.0M312.6 727.6v5.0M351.3 727.6v5.0M428.7 727.6v5.0M467.4 727.6v5.0M506.1 727.6v5.0M583.4 727.6v5.0M622.1 727.6v5.0M660.8 727.6v5.0M738.2 727.6v5.0M776.9 727.6v5.0M815.6 727.6v5.0M892.9 727.6v5.0M931.6 727.6v5.0M970.3 727.6v5.0M1047.7 727.6v5.0M1086.3 727.6v5.0M1125.0 727.6v5.0M142 705.1h-5.0M142 682.7h-5.0M142 660.2h-5.0M142 615.3h-5.0M142 592.8h-5.0M142 570.4h-5.0M142 525.5h-5.0M142 503.0h-5.0M142 480.5h-5.0M142 435.6h-5.0M142 413.2h-5.0M142 390.7h-5.0M142 345.8h-5.0M142 323.3h-5.0M142 300.9h-5.0M142 255.9h-5.0M142 233.5h-5.0M142 211.0h-5.0M142 166.1h-5.0M142 143.6h-5.0M142 121.2h-5.0M142 76.3h-5.0" stroke="#000" stroke-width="1.3" fill="none"/>
<text transform="matrix(1.02353 0 0 1.05217 99.976 740.200)" font-size="34" font-family='"Liberation Sans", sans-serif' stroke="#000" stroke-width="0.4">0</text>
<text transform="matrix(1.10286 0 0 1.05217 77.594 650.360)" font-size="34" font-family='"Liberation Sans", sans-serif' stroke="#000" stroke-width="0.4">20</text>
<text transform="matrix(1.07222 0 0 1.05217 78.728 560.520)" font-size="34" font-family='"Liberation Sans", sans-serif' stroke="#000" stroke-width="0.4">40</text>
<text transform="matrix(1.10286 0 0 1.05217 77.594 470.680)" font-size="34" font-family='"Liberation Sans", sans-serif' stroke="#000" stroke-width="0.4">60</text>
<text transform="matrix(1.07222 0 0 1.05217 78.728 380.840)" font-size="34" font-family='"Liberation Sans", sans-serif' stroke="#000" stroke-width="0.4">80</text>
<text transform="matrix(1.10189 0 0 1.05217 56.694 291.000)" font-size="34" font-family='"Liberation Sans", sans-serif' stroke="#000" stroke-width="0.4">100</text>
<text transform="matrix(1.10189 0 0 1.05217 56.694 201.160)" font-size="34" font-family='"Liberation Sans", sans-serif' stroke="#000" stroke-width="0.4">120</text>
<text transform="matrix(1.10189 0 0 1.05217 56.694 111.320)" font-size="34" font-family='"Liberation Sans", sans-serif' stroke="#000" stroke-width="0.4">140</text>
<text transform="matrix(1.06667 0 0 1.05652 210.213 773.300)" font-size="34" font-family='"Liberation Sans", sans-serif' stroke="#000" stroke-width="0.4">0.4</text>
<text transform="matrix(1.06667 0 0 1.05652 364.953 773.300)" font-size="34" font-family='"Liberation Sans", sans-serif' stroke="#000" stroke-width="0.4">0.6</text>
<text transform="matrix(1.06667 0 0 1.05652 519.693 773.300)" font-size="34" font-family='"Liberation Sans", sans-serif' stroke="#000" stroke-width="0.4">0.8</text>
<text transform="matrix(1.11628 0 0 1.05652 672.151 773.300)" font-size="34" font-family='"Liberation Sans", sans-serif' stroke="#000" stroke-width="0.4">1.0</text>
<text transform="matrix(1.11628 0 0 1.05652 826.891 773.300)" font-size="34" font-family='"Liberation Sans", sans-serif' stroke="#000" stroke-width="0.4">1.2</text>
<text transform="matrix(1.11628 0 0 1.05652 981.631 773.300)" font-size="34" font-family='"Liberation Sans", sans-serif' stroke="#000" stroke-width="0.4">1.4</text>
<text transform="matrix(1.10419 0 0 1 935.296 49.800)" font-size="8.2" font-family='"Liberation Sans", sans-serif' fill="#707070">SMASH analysis: SMASH-2.2ana-19-gfbc02f6</text>
<text transform="matrix(0 -1.30118 1.00909 0 39.209 432.304)" font-size="47" font-family='"Liberation Sans", sans-serif' stroke="#000" stroke-width="0.4">[mb]</text>
<text transform="matrix(0 -0.91111 0.88000 0 43.000 477.422)" font-size="47" font-family='"Liberation Sans", sans-serif' stroke="#000" stroke-width="0.4">σ</text>
<text transform="matrix(1.40909 0 0 1.46875 587.591 835.000)" font-size="34" font-family='"Liberation Serif", serif' stroke="#000" stroke-width="0.4">s</text>
<text transform="matrix(1.07280 0 0 0.91224 611.609 831.565)" font-size="52" font-family='"Liberation Sans", sans-serif' stroke="#000" stroke-width="0.4">[GeV]</text>
<text transform="matrix(1.05762 0 0 0.99444 1309.942 116.000)" font-size="25" font-family='"Liberation Sans", sans-serif' stroke="#000" stroke-width="0.4">SMASH-3.0rc</text>
<text transform="matrix(1.15902 0 0 1 1293.300 161.800)" font-size="33.5" font-family='"Liberation Sans", sans-serif' stroke="#000" stroke-width="0.4">total</text>
<text transform="matrix(1.10108 0 0 1 1292.199 209.400)" font-size="33.5" font-family='"Liberation Sans", sans-serif' stroke="#000" stroke-width="0.4">elastic</text>
<text transform="matrix(1.03125 0 0 1 1292.438 257.000)" font-size="33.5" font-family='"Liberation Sans", sans-serif' stroke="#000" stroke-width="0.4">ρ</text>
<text transform="matrix(0.91053 0 0 1 1293.589 304.600)" font-size="33.5" font-family='"Liberation Sans", sans-serif' stroke="#000" stroke-width="0.4">σ</text>
<text transform="matrix(1.06667 0 0 1 1292.600 352.200)" font-size="33.5" font-family='"Liberation Sans", sans-serif' stroke="#000" stroke-width="0.4">f₂</text>
<text transform="matrix(1.19655 0 0 1 1290.907 399.800)" font-size="33.5" font-family='"Liberation Sans", sans-serif' stroke="#000" stroke-width="0.4">ρ*</text>
<text transform="matrix(1.05278 0 0 1 1293.300 447.400)" font-size="33.5" font-family='"Liberation Sans", sans-serif' stroke="#000" stroke-width="0.4">f₀*</text>
<text transform="matrix(0.82642 0 0 1 1292.474 495.000)" font-size="33.5" font-family='"Liberation Sans", sans-serif' stroke="#000" stroke-width="0.4">π π</text>
<text transform="matrix(1.13953 0 0 1 1291.021 542.600)" font-size="33.5" font-family='"Liberation Sans", sans-serif' stroke="#000" stroke-width="0.4">ρ₃*</text>
<text transform="matrix(1.06493 0 0 1 1291.170 590.200)" font-size="33.5" font-family='"Liberation Sans", sans-serif' stroke="#000" stroke-width="0.4">SMASH-2.2 (total)</text>
<text transform="matrix(1.14076 0 0 1 1292.159 637.800)" font-size="33.5" font-family='"Liberation Sans", sans-serif' stroke="#000" stroke-width="0.4">data (total)</text>
<text transform="matrix(1.11636 0 0 1 1292.184 685.400)" font-size="33.5" font-family='"Liberation Sans", sans-serif' stroke="#000" stroke-width="0.4">data (elast)</text>
<path d="M596.3 14.9 H617.6 V18.8 H615.0 V32.5 Q615.0 35 617.6 35 H617.9 V37.8 H614.7 Q610.6 37.8 610.6 33 V18.8 H602.3 V37.8 H597.9 V18.8 H597.9 Q595.7 18.8 596.3 14.9 Z M651.5 14.9 H672.8 V18.8 H670.2 V32.5 Q670.2 35 672.8 35 H673.1 V37.8 H669.9 Q665.8 37.8 665.8 33 V18.8 H657.5 V37.8 H653.1 V18.8 H653.1 Q650.9 18.8 651.5 14.9 Z" fill="#000"/>
<path d="M622 16.4 H638 M630 9.2 V23.6 M677 16.9 H693" stroke="#000" stroke-width="1.9" fill="none"/>
<path d="M540.3 820.2 L549 814.3" fill="none" stroke="#000" stroke-width="1.8"/>
<path d="M547 815.6 L551.4 813.2 L559.6 845.5 L556.8 847.8 Z" fill="#000"/>
<path d="M557.8 847 L580.4 787.6 H612.6" fill="none" stroke="#000" stroke-width="1.7"/>
<g fill="none"><path d="M1202 150.8H1267" stroke="#ff0000" stroke-width="4"/><path d="M1202 198.4H1243M1264 198.4H1267" stroke="#0000ff" stroke-width="4"/><path d="M1202 246.0H1235M1252 246.0H1260" stroke="#00bfbf" stroke-width="4"/><path d="M1202 293.6H1235M1252 293.6H1260" stroke="#bf00bf" stroke-width="4"/><path d="M1202 341.2H1210M1227 341.2H1260" stroke="#bfbf00" stroke-width="4"/><path d="M1202 388.8H1210M1218 388.8H1227M1235 388.8H1243M1252 388.8H1260" stroke="#000" stroke-width="4"/><path d="M1202 436.4H1267" stroke="#008000" stroke-width="4"/><path d="M1202 484.0H1243M1264 484.0H1267" stroke="#ff0000" stroke-width="4"/><path d="M1202 531.6H1235M1252 531.6H1260" stroke="#0000ff" stroke-width="4"/><path d="M1196 579.2H1273" stroke="#dcdcdc" stroke-width="12"/><path d="M1218 626.6H1250M1234 610.6V642.6" stroke="#000" stroke-width="4"/><circle cx="1234" cy="626.6" r="4.1" fill="#f00" stroke="#000" stroke-width="1.7"/><path d="M1218 674.2H1250M1234 658.2V690.2" stroke="#000" stroke-width="4"/><rect x="1230.1" y="670.3" width="7.8" height="7.8" fill="#008000" stroke="#000" stroke-width="1.6"/></g>
</svg></body></html>
